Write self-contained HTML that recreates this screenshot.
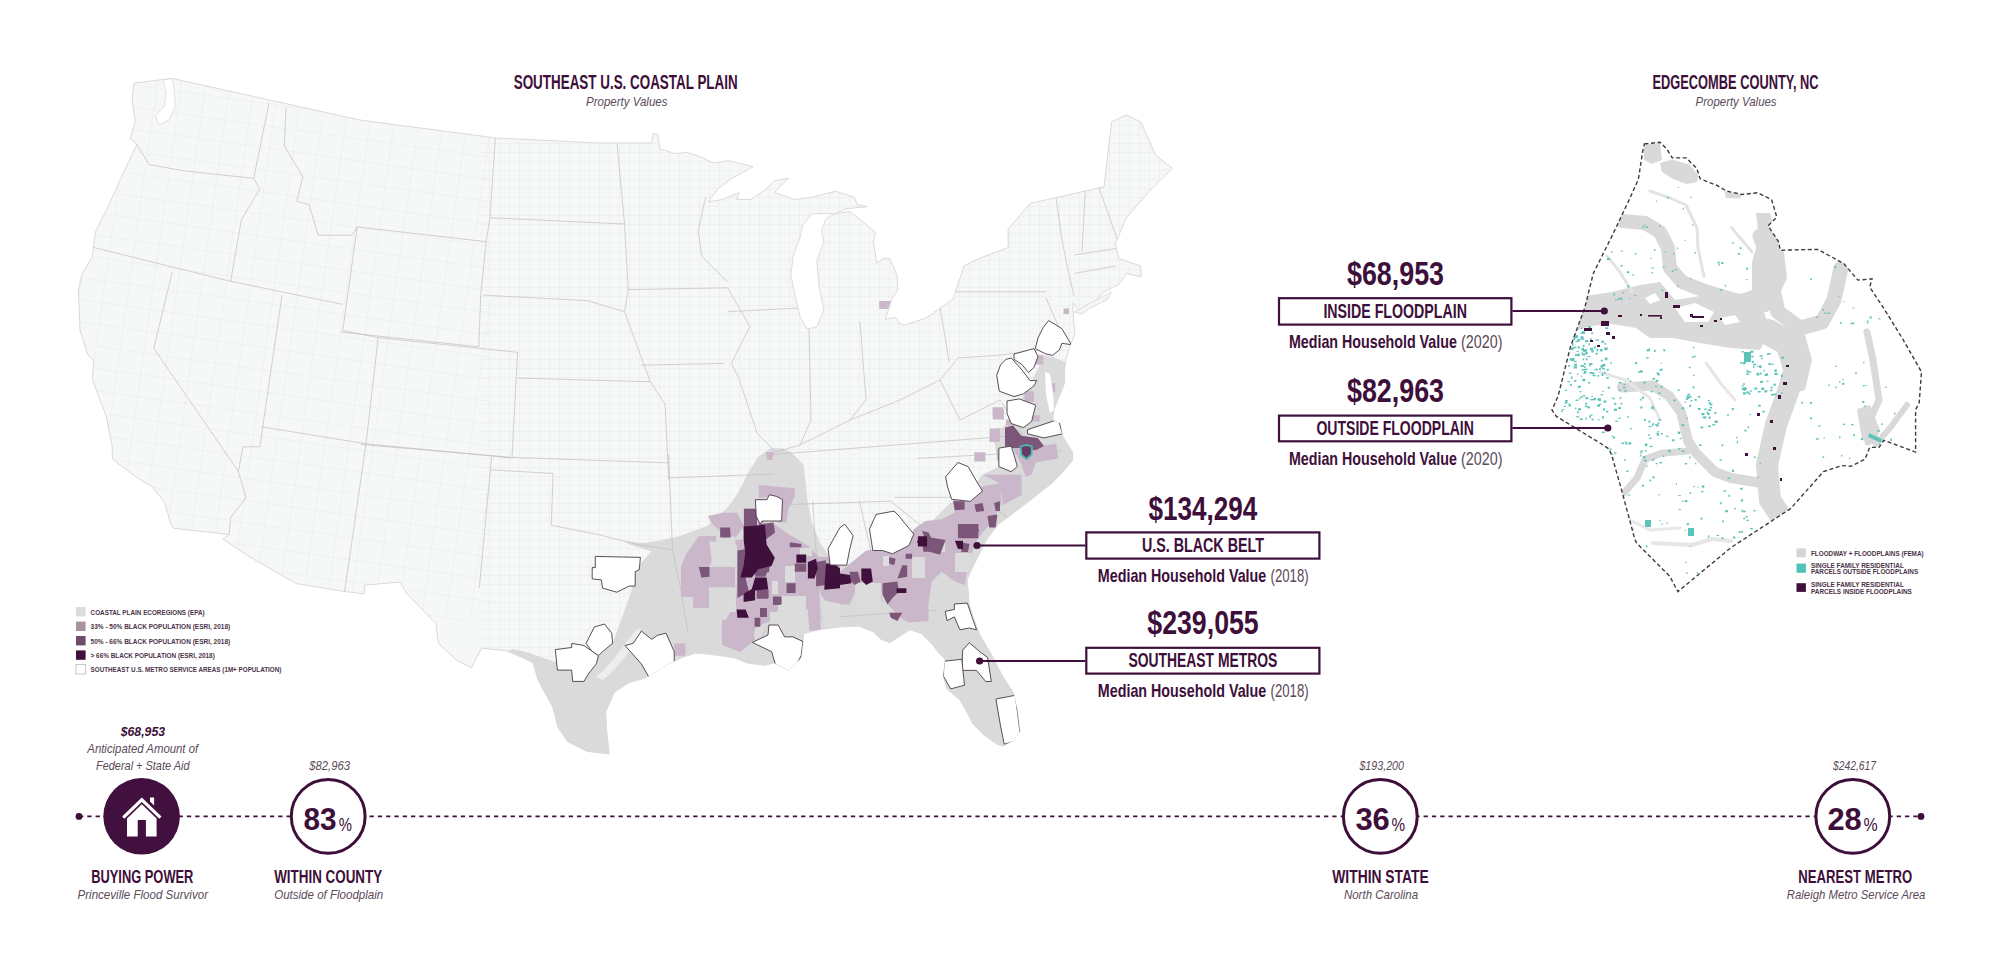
<!DOCTYPE html>
<html><head><meta charset="utf-8"><style>
html,body{margin:0;padding:0;background:#fff;}
svg{display:block;font-family:"Liberation Sans",sans-serif;}
</style></head><body>
<svg width="2000" height="976" viewBox="0 0 2000 976">
<defs><clipPath id="usclip"><polygon points="133.8,83.1 172.2,78.4 359.7,120.0 496.0,138.0 600.0,143.0 651.8,143.0 653.0,133.6 657.7,134.7 660.0,148.9 675.4,153.6 687.2,152.4 701.3,157.1 713.1,163.0 728.4,160.7 753.2,166.6 732.0,178.3 717.8,188.9 708.4,201.9 722.5,199.5 739.0,192.5 736.7,199.5 750.8,199.5 765.0,190.0 774.4,180.7 788.5,178.3 774.4,192.5 795.6,199.5 812.0,197.2 835.6,191.3 854.5,197.2 856.8,204.3 867.4,206.6 845.0,209.0 835.6,213.7 849.8,211.3 861.6,220.7 875.7,232.5 873.3,242.0 876.9,263.2 882.8,258.4 889.8,258.4 896.9,275.0 898.1,289.0 892.2,298.5 885.1,319.7 894.5,317.4 901.6,324.4 905.0,325.0 927.0,317.6 952.9,299.2 964.0,266.0 978.7,258.6 1008.2,247.5 1008.2,229.1 1030.3,203.3 1056.2,197.7 1104.1,186.7 1111.5,122.1 1126.3,114.8 1141.0,122.1 1155.7,155.3 1172.4,168.2 1148.4,192.2 1126.3,218.0 1115.2,243.9 1118.9,258.6 1141.0,266.0 1141.0,277.0 1126.3,273.4 1118.9,284.4 1104.1,291.8 1082.0,314.0 1072.6,303.3 1073.9,323.3 1075.2,334.0 1069.9,346.0 1065.9,359.3 1064.6,370.0 1064.6,383.2 1059.3,396.6 1053.9,409.9 1052.6,420.0 1060.3,423.5 1062.4,435.8 1072.6,452.2 1072.6,460.4 1060.3,474.8 1052.1,483.0 1029.1,501.2 1013.6,512.9 998.0,524.6 986.3,540.1 970.7,571.3 967.3,580.0 969.2,604.0 972.8,616.9 980.2,635.4 993.1,657.5 1002.4,675.9 1013.4,692.5 1017.1,709.2 1019.9,731.3 1013.4,740.5 1002.4,746.0 996.8,744.2 983.9,735.0 972.8,723.9 967.3,712.8 959.9,700.0 947.0,688.9 943.3,676.0 945.2,659.3 939.6,653.8 932.3,644.6 921.2,633.5 910.1,629.8 900.9,635.4 889.8,642.7 880.6,639.0 873.2,631.7 858.5,626.1 840.0,627.0 818.9,629.7 803.4,633.6 803.5,638.3 801.1,658.0 788.8,670.3 774.0,662.9 764.2,665.4 747.0,662.9 734.7,658.0 727.3,656.8 710.1,654.3 695.4,653.1 680.6,658.0 665.8,665.4 646.2,677.7 629.0,682.6 614.2,692.4 605.6,712.1 606.8,731.8 609.3,753.9 587.2,751.4 567.5,741.6 557.7,726.8 552.8,707.2 538.0,680.1 533.1,662.9 523.3,658.0 506.0,650.6 481.5,648.2 471.6,667.8 456.9,660.5 438.4,643.3 436.0,623.6 407.4,594.4 399.7,582.1 364.4,585.2 364.4,593.8 342.9,591.3 296.7,583.7 250.6,557.5 223.0,539.1 229.1,534.5 173.8,528.3 170.7,523.7 164.5,502.2 152.2,486.8 136.9,477.6 112.3,459.1 112.3,446.8 106.1,416.1 92.3,379.2 93.8,360.7 87.7,354.6 80.0,330.0 78.4,290.6 81.5,275.2 92.3,256.7 95.4,232.1 106.1,210.6 121.5,176.8 136.9,144.5 130.1,138.4 135.3,121.5 132.2,100.0"/></clipPath></defs>
<defs><pattern id="cg1" width="10" height="9" patternUnits="userSpaceOnUse"><path d="M10 0V9H0" stroke="#e2e3e3" stroke-width="0.7" fill="none"/></pattern><pattern id="cg2" width="24" height="22" patternUnits="userSpaceOnUse" patternTransform="rotate(8)"><path d="M24 0V22H0" stroke="#e4e5e5" stroke-width="0.7" fill="none"/></pattern></defs>
<polygon points="133.8,83.1 172.2,78.4 359.7,120.0 496.0,138.0 600.0,143.0 651.8,143.0 653.0,133.6 657.7,134.7 660.0,148.9 675.4,153.6 687.2,152.4 701.3,157.1 713.1,163.0 728.4,160.7 753.2,166.6 732.0,178.3 717.8,188.9 708.4,201.9 722.5,199.5 739.0,192.5 736.7,199.5 750.8,199.5 765.0,190.0 774.4,180.7 788.5,178.3 774.4,192.5 795.6,199.5 812.0,197.2 835.6,191.3 854.5,197.2 856.8,204.3 867.4,206.6 845.0,209.0 835.6,213.7 849.8,211.3 861.6,220.7 875.7,232.5 873.3,242.0 876.9,263.2 882.8,258.4 889.8,258.4 896.9,275.0 898.1,289.0 892.2,298.5 885.1,319.7 894.5,317.4 901.6,324.4 905.0,325.0 927.0,317.6 952.9,299.2 964.0,266.0 978.7,258.6 1008.2,247.5 1008.2,229.1 1030.3,203.3 1056.2,197.7 1104.1,186.7 1111.5,122.1 1126.3,114.8 1141.0,122.1 1155.7,155.3 1172.4,168.2 1148.4,192.2 1126.3,218.0 1115.2,243.9 1118.9,258.6 1141.0,266.0 1141.0,277.0 1126.3,273.4 1118.9,284.4 1104.1,291.8 1082.0,314.0 1072.6,303.3 1073.9,323.3 1075.2,334.0 1069.9,346.0 1065.9,359.3 1064.6,370.0 1064.6,383.2 1059.3,396.6 1053.9,409.9 1052.6,420.0 1060.3,423.5 1062.4,435.8 1072.6,452.2 1072.6,460.4 1060.3,474.8 1052.1,483.0 1029.1,501.2 1013.6,512.9 998.0,524.6 986.3,540.1 970.7,571.3 967.3,580.0 969.2,604.0 972.8,616.9 980.2,635.4 993.1,657.5 1002.4,675.9 1013.4,692.5 1017.1,709.2 1019.9,731.3 1013.4,740.5 1002.4,746.0 996.8,744.2 983.9,735.0 972.8,723.9 967.3,712.8 959.9,700.0 947.0,688.9 943.3,676.0 945.2,659.3 939.6,653.8 932.3,644.6 921.2,633.5 910.1,629.8 900.9,635.4 889.8,642.7 880.6,639.0 873.2,631.7 858.5,626.1 840.0,627.0 818.9,629.7 803.4,633.6 803.5,638.3 801.1,658.0 788.8,670.3 774.0,662.9 764.2,665.4 747.0,662.9 734.7,658.0 727.3,656.8 710.1,654.3 695.4,653.1 680.6,658.0 665.8,665.4 646.2,677.7 629.0,682.6 614.2,692.4 605.6,712.1 606.8,731.8 609.3,753.9 587.2,751.4 567.5,741.6 557.7,726.8 552.8,707.2 538.0,680.1 533.1,662.9 523.3,658.0 506.0,650.6 481.5,648.2 471.6,667.8 456.9,660.5 438.4,643.3 436.0,623.6 407.4,594.4 399.7,582.1 364.4,585.2 364.4,593.8 342.9,591.3 296.7,583.7 250.6,557.5 223.0,539.1 229.1,534.5 173.8,528.3 170.7,523.7 164.5,502.2 152.2,486.8 136.9,477.6 112.3,459.1 112.3,446.8 106.1,416.1 92.3,379.2 93.8,360.7 87.7,354.6 80.0,330.0 78.4,290.6 81.5,275.2 92.3,256.7 95.4,232.1 106.1,210.6 121.5,176.8 136.9,144.5 130.1,138.4 135.3,121.5 132.2,100.0" fill="#f6f7f7" stroke="#d0d0d0" stroke-width="0.8"/>
<g clip-path="url(#usclip)">
<rect x="60" y="60" width="430" height="560" fill="url(#cg2)"/>
<rect x="480" y="60" width="720" height="720" fill="url(#cg1)"/>
<polygon points="490.0,660.0 512.0,649.0 524.6,651.6 555.3,661.9 571.7,647.5 598.4,655.7 612.7,643.4 631.1,592.2 635.2,569.7 651.6,551.2 631.1,545.1 623.0,541.0 643.4,543.0 660.0,540.4 680.0,536.0 707.1,526.1 727.6,507.6 737.9,493.3 748.1,472.8 758.4,456.4 770.7,448.2 783.0,448.2 791.2,452.3 803.5,464.6 805.5,481.0 807.6,501.5 811.7,522.0 819.9,542.5 828.1,554.8 840.4,563.0 856.8,565.0 865.0,558.9 885.5,554.8 900.0,550.7 910.7,534.2 931.2,521.9 949.7,503.4 968.1,493.2 982.5,474.8 998.9,466.6 995.0,445.0 990.7,429.7 1003.0,427.6 1027.5,388.7 1039.0,367.0 1040.6,355.3 1051.3,356.6 1066.0,362.0 1100.0,360.0 1200.0,400.0 1200.0,800.0 500.0,800.0" fill="#dadada"/>
<polyline points="136.9,144.5 149.0,164.5 183.0,170.7 253.7,178.4" fill="none" stroke="#bfbfbf" stroke-width="0.7"/>
<polyline points="269.0,103.0 253.7,178.4" fill="none" stroke="#bfbfbf" stroke-width="0.7"/>
<polyline points="253.7,178.4 259.8,189.0 241.4,219.9 230.6,281.3" fill="none" stroke="#bfbfbf" stroke-width="0.7"/>
<polyline points="93.8,247.5 230.6,281.3 342.8,304.4" fill="none" stroke="#bfbfbf" stroke-width="0.7"/>
<polyline points="286.0,107.6 284.4,146.0 302.9,176.8 296.7,201.4 309.0,204.5 318.2,235.2 352.0,235.2 357.2,226.9" fill="none" stroke="#bfbfbf" stroke-width="0.7"/>
<polyline points="172.2,272.1 153.8,348.4 238.3,471.4 246.0,497.6 230.6,517.5 229.1,534.5" fill="none" stroke="#bfbfbf" stroke-width="0.7"/>
<polyline points="282.0,295.0 259.8,446.8 243.0,446.8 238.3,471.4" fill="none" stroke="#bfbfbf" stroke-width="0.7"/>
<polyline points="261.4,426.8 366.0,443.8 510.7,457.8" fill="none" stroke="#bfbfbf" stroke-width="0.7"/>
<polyline points="366.0,443.8 344.4,592.9" fill="none" stroke="#bfbfbf" stroke-width="0.7"/>
<polyline points="378.2,337.7 366.0,443.8" fill="none" stroke="#bfbfbf" stroke-width="0.7"/>
<polyline points="342.8,330.5 378.2,337.7" fill="none" stroke="#bfbfbf" stroke-width="0.7"/>
<polyline points="491.6,457.0 479.3,587.9" fill="none" stroke="#bfbfbf" stroke-width="0.7"/>
<polyline points="490.4,469.8 553.1,473.5 551.3,525.2" fill="none" stroke="#bfbfbf" stroke-width="0.7"/>
<polyline points="357.2,226.9 486.2,241.7" fill="none" stroke="#bfbfbf" stroke-width="0.7"/>
<polyline points="342.8,330.5 357.2,226.9" fill="none" stroke="#bfbfbf" stroke-width="0.7"/>
<polyline points="340.6,332.0 478.8,346.8" fill="none" stroke="#bfbfbf" stroke-width="0.7"/>
<polyline points="495.4,138.4 489.9,217.7 486.2,241.7 480.7,295.1 478.8,346.8" fill="none" stroke="#bfbfbf" stroke-width="0.7"/>
<polyline points="489.9,217.7 624.5,224.0" fill="none" stroke="#bfbfbf" stroke-width="0.7"/>
<polyline points="617.1,144.0 624.5,224.0 628.2,289.6 624.5,311.7" fill="none" stroke="#bfbfbf" stroke-width="0.7"/>
<polyline points="482.5,295.1 587.6,300.7 624.5,311.7 650.3,381.8" fill="none" stroke="#bfbfbf" stroke-width="0.7"/>
<polyline points="377.4,337.6 517.6,352.3 512.0,457.4 360.8,444.5" fill="none" stroke="#bfbfbf" stroke-width="0.7"/>
<polyline points="517.6,378.1 650.3,381.8" fill="none" stroke="#bfbfbf" stroke-width="0.7"/>
<polyline points="512.0,457.4 668.7,462.9" fill="none" stroke="#bfbfbf" stroke-width="0.7"/>
<polyline points="650.3,381.8 665.0,404.0 668.7,479.5" fill="none" stroke="#bfbfbf" stroke-width="0.7"/>
<polyline points="628.2,289.6 727.7,287.8 749.9,326.5 731.4,363.4 738.8,378.1 757.2,433.4 775.7,451.9" fill="none" stroke="#bfbfbf" stroke-width="0.7"/>
<polyline points="641.1,365.2 724.0,363.4" fill="none" stroke="#bfbfbf" stroke-width="0.7"/>
<polyline points="705.6,197.4 698.2,230.6 701.9,256.4 727.7,282.2" fill="none" stroke="#bfbfbf" stroke-width="0.7"/>
<polyline points="727.7,311.7 800.0,308.0" fill="none" stroke="#bfbfbf" stroke-width="0.7"/>
<polyline points="809.0,328.7 811.0,420.0 800.0,445.0" fill="none" stroke="#bfbfbf" stroke-width="0.7"/>
<polyline points="860.0,322.0 866.0,400.0 850.0,420.0" fill="none" stroke="#bfbfbf" stroke-width="0.7"/>
<polyline points="551.3,525.2 600.0,535.0 640.0,545.0 672.5,549.9" fill="none" stroke="#bfbfbf" stroke-width="0.7"/>
<polyline points="668.6,454.5 672.5,549.9 680.3,586.9 766.0,586.9" fill="none" stroke="#bfbfbf" stroke-width="0.7"/>
<polyline points="680.3,586.9 688.0,633.6" fill="none" stroke="#bfbfbf" stroke-width="0.7"/>
<polyline points="668.6,477.9 773.7,474.0" fill="none" stroke="#bfbfbf" stroke-width="0.7"/>
<polyline points="773.7,454.5 1023.0,435.0" fill="none" stroke="#bfbfbf" stroke-width="0.7"/>
<polyline points="773.7,505.0 890.5,501.2" fill="none" stroke="#bfbfbf" stroke-width="0.7"/>
<polyline points="812.7,501.2 820.5,618.0" fill="none" stroke="#bfbfbf" stroke-width="0.7"/>
<polyline points="859.4,501.2 882.7,602.4" fill="none" stroke="#bfbfbf" stroke-width="0.7"/>
<polyline points="820.5,618.0 937.3,610.2" fill="none" stroke="#bfbfbf" stroke-width="0.7"/>
<polyline points="890.5,501.2 968.4,563.5" fill="none" stroke="#bfbfbf" stroke-width="0.7"/>
<polyline points="894.4,497.3 976.2,497.3 1007.3,516.8" fill="none" stroke="#bfbfbf" stroke-width="0.7"/>
<polyline points="917.8,458.4 1061.8,450.6" fill="none" stroke="#bfbfbf" stroke-width="0.7"/>
<polyline points="766.0,586.9 772.0,620.0 760.0,640.0" fill="none" stroke="#bfbfbf" stroke-width="0.7"/>
<polyline points="775.7,451.9 800.0,445.0 850.0,420.0 900.0,400.0 940.0,380.0 958.0,358.0" fill="none" stroke="#bfbfbf" stroke-width="0.7"/>
<polyline points="940.0,380.0 960.0,420.0 1000.0,400.0 1023.0,435.0" fill="none" stroke="#bfbfbf" stroke-width="0.7"/>
<polyline points="958.0,358.0 1000.0,355.0 1040.0,350.0" fill="none" stroke="#bfbfbf" stroke-width="0.7"/>
<polyline points="1046.0,298.0 1060.0,330.0" fill="none" stroke="#bfbfbf" stroke-width="0.7"/>
<polyline points="1056.0,197.7 1062.0,240.0 1068.0,270.0 1074.0,296.0" fill="none" stroke="#bfbfbf" stroke-width="0.7"/>
<polyline points="1085.7,184.8 1082.0,251.2" fill="none" stroke="#bfbfbf" stroke-width="0.7"/>
<polyline points="1096.7,181.2 1118.9,243.9" fill="none" stroke="#bfbfbf" stroke-width="0.7"/>
<polyline points="1074.6,255.0 1122.6,247.5" fill="none" stroke="#bfbfbf" stroke-width="0.7"/>
<polyline points="1074.6,273.4 1115.2,266.0" fill="none" stroke="#bfbfbf" stroke-width="0.7"/>
<polyline points="940.0,306.6 949.2,362.0" fill="none" stroke="#bfbfbf" stroke-width="0.7"/>
<polyline points="949.2,291.8 1046.0,291.8" fill="none" stroke="#bfbfbf" stroke-width="0.7"/>
<polygon points="596,677 604,670 616,656 628,640 636,630 641,628 638,638 626,656 612,672 603,680" fill="#ededed"/>
<polygon points="686.0,554.0 699.0,536.0 716.0,536.0 716.0,554.0 709.0,567.0 714.0,567.0 735.0,567.0 735.0,587.0 709.0,587.0 709.0,608.0 693.0,608.0 693.0,597.0 681.0,597.0 681.0,567.0" fill="#cab8ca"/>
<polygon points="735.4,539.7 743.6,539.7 743.6,551.1 735.4,551.1" fill="#cab8ca"/>
<polygon points="707.9,516.1 722.6,512.8 737.4,512.8 743.9,525.9 735.7,537.4 721.0,532.5 711.1,522.6" fill="#cab8ca"/>
<polygon points="758.7,484.9 794.8,488.2 794.8,496.4 788.2,509.5 786.6,522.6 778.4,522.6 771.8,496.4 758.7,498.0" fill="#cab8ca"/>
<polygon points="771.8,522.6 788.2,534.1 807.9,545.6 819.3,557.0 821.0,578.4 819.3,594.8 821.0,630.8 809.5,630.8 807.9,609.5 778.4,609.5 770.2,621.0 755.4,627.5 752.1,640.0 722.6,640.0 724.3,622.6 735.7,603.0 737.4,578.4 748.9,568.5 762.0,571.8 771.8,555.4 768.5,542.3" fill="#cab8ca"/>
<polygon points="743.9,508.7 757.0,508.7 765.2,524.3 773.4,557.0 770.2,565.2 766.9,591.7 756.3,599.9 749.2,618.3 737.9,618.3 736.9,579.4 737.4,550.5 745.6,537.4" fill="#cab8ca"/>
<polygon points="816.1,557.0 840.0,557.0 840.0,603.0 827.5,604.6 821.0,594.8" fill="#cab8ca"/>
<polygon points="840.0,571.8 866.2,550.5 882.6,548.9 892.5,553.8 905.6,545.6 913.8,529.2 925.2,521.0 941.6,519.3 954.8,512.8 953.1,499.7 967.9,496.4 982.6,486.6 1000.0,483.3 1001.6,503.0 993.4,519.3 977.0,539.8 968.9,560.3 964.8,585.0 954.8,581.6 941.6,571.8 931.8,581.6 928.5,604.6 928.5,621.0 908.9,622.6 902.3,619.3 887.5,604.6 881.0,591.5 872.8,586.6 854.8,593.1 849.8,604.6 840.0,604.6" fill="#cab8ca"/>
<polygon points="982.5,474.8 998.9,474.8 1021.4,476.0 1021.4,495.2 1003.0,505.0 1000.0,483.3" fill="#cab8ca"/>
<polygon points="1013.2,448.1 1056.2,444.0 1058.3,458.4 1035.7,462.5 1031.6,474.8 1025.5,476.8 1021.4,464.5" fill="#cab8ca"/>
<polygon points="992.7,409.0 1004.0,409.0 1004.0,419.4 992.7,419.4" fill="#cab8ca"/>
<polygon points="974.3,452.2 985.5,452.2 985.5,461.4 974.3,461.4" fill="#cab8ca"/>
<polygon points="989.6,428.6 999.9,428.6 999.9,442.0 989.6,442.0" fill="#cab8ca"/>
<polygon points="996.8,449.0 1003.0,449.0 1003.0,460.4 996.8,460.4" fill="#cab8ca"/>
<polygon points="1006.0,419.4 1015.0,419.4 1015.0,425.6 1006.0,425.6" fill="#cab8ca"/>
<polygon points="1029.6,415.3 1039.8,415.3 1039.8,421.5 1029.6,421.5" fill="#cab8ca"/>
<polygon points="998.9,474.8 1021.4,474.8 1021.4,495.2 998.9,490.0" fill="#cab8ca"/>
<polygon points="674.2,643.4 685.5,643.4 685.5,655.7 674.2,655.7" fill="#cab8ca"/>
<polygon points="879.2,300.9 891.0,300.9 888.0,309.1 879.2,309.1" fill="#cab8ca"/>
<polygon points="1063.5,308.4 1069.0,308.4 1069.0,314.0 1063.5,314.0" fill="#cab8ca"/>
<polygon points="1050.0,383.2 1055.3,383.2 1055.3,392.6 1050.0,392.6" fill="#cab8ca"/>
<polygon points="1034.0,355.3 1043.3,355.3 1043.3,364.6 1034.0,364.6" fill="#cab8ca"/>
<polygon points="1024.6,391.2 1034.0,391.2 1034.0,401.9 1024.6,401.9" fill="#cab8ca"/>
<polygon points="992.7,407.2 1003.3,407.2 1003.3,416.5 992.7,416.5" fill="#cab8ca"/>
<polygon points="722.0,620.0 752.0,620.0 755.0,640.0 740.0,652.0 722.0,645.0" fill="#cab8ca"/>
<polygon points="766.0,452.0 774.0,452.0 772.0,460.0 767.0,460.0" fill="#cab8ca"/>
<polygon points="709.5,541.0 737.0,545.0 737.0,565.0 712.0,565.0" fill="#dcdcdc"/>
<polygon points="785.0,566.0 795.0,566.0 795.0,582.0 785.0,582.0" fill="#dcdcdc"/>
<polygon points="778.0,596.0 806.0,596.0 806.0,610.0 778.0,610.0" fill="#dcdcdc"/>
<polygon points="770.0,612.0 806.0,612.0 808.0,640.0 770.0,640.0" fill="#dcdcdc"/>
<polygon points="823.0,600.0 840.0,604.0 840.0,640.0 823.0,640.0" fill="#dcdcdc"/>
<polygon points="912.0,557.0 925.0,557.0 925.0,578.0 912.0,578.0" fill="#dcdcdc"/>
<polygon points="955.0,553.0 971.0,553.0 971.0,572.0 955.0,572.0" fill="#dcdcdc"/>
<polygon points="883.0,556.0 889.0,556.0 889.0,566.0 883.0,566.0" fill="#dcdcdc"/>
<polygon points="772.0,581.0 778.0,581.0 778.0,594.0 772.0,594.0" fill="#dcdcdc"/>
<polygon points="800.0,548.0 812.0,548.0 812.0,556.0 800.0,556.0" fill="#dcdcdc"/>
<polygon points="726.0,600.0 736.0,600.0 736.0,612.0 726.0,612.0" fill="#dcdcdc"/>
<polygon points="855.0,583.0 881.0,583.0 881.0,606.0 855.0,606.0" fill="#dcdcdc"/>
<polygon points="935.0,540.0 945.0,540.0 945.0,552.0 935.0,552.0" fill="#dcdcdc"/>
<polygon points="756.7,588.9 768.2,588.9 768.2,598.7 756.7,598.7" fill="#7b5678"/>
<polygon points="760.0,608.5 766.6,608.5 766.6,616.7 760.0,616.7" fill="#7b5678"/>
<polygon points="773.0,597.0 780.0,597.0 780.0,605.0 773.0,605.0" fill="#7b5678"/>
<polygon points="755.0,564.0 770.0,562.0 769.0,572.0 756.0,574.0" fill="#7b5678"/>
<polygon points="743.9,508.7 757.0,508.7 757.0,525.9 750.5,534.1 743.9,529.2" fill="#7b5678"/>
<polygon points="720.2,527.5 730.0,527.5 730.8,537.4 720.2,537.4" fill="#7b5678"/>
<polygon points="698.9,566.9 709.5,566.9 709.5,576.7 701.3,577.5" fill="#7b5678"/>
<polygon points="737.4,550.5 747.2,548.9 748.9,565.2 745.6,578.4 748.9,591.5 737.4,598.0 737.4,581.6" fill="#7b5678"/>
<polygon points="758.7,524.3 773.4,522.6 775.1,532.5 768.5,537.4 758.7,543.9" fill="#7b5678"/>
<polygon points="753.8,566.9 770.2,565.2 765.2,576.7 755.4,576.7" fill="#7b5678"/>
<polygon points="757.0,589.8 768.5,589.8 768.5,598.0 757.0,598.0" fill="#7b5678"/>
<polygon points="794.8,563.6 806.2,563.6 806.2,571.8 794.8,571.8" fill="#7b5678"/>
<polygon points="786.6,583.3 795.6,583.3 795.6,593.1 786.6,593.1" fill="#7b5678"/>
<polygon points="816.1,562.0 825.9,560.3 825.9,585.0 816.1,586.6" fill="#7b5678"/>
<polygon points="789.8,542.3 801.3,543.9 801.3,547.2 789.8,547.2" fill="#7b5678"/>
<polygon points="760.3,607.9 766.9,607.9 766.9,616.9 760.3,616.9" fill="#7b5678"/>
<polygon points="754.6,617.7 760.3,617.7 760.3,626.7 754.6,626.7" fill="#7b5678"/>
<polygon points="773.4,596.4 781.6,596.4 781.6,604.6 773.4,604.6" fill="#7b5678"/>
<polygon points="849.8,571.8 858.0,571.8 860.5,581.6 854.8,584.9 849.8,580.0" fill="#7b5678"/>
<polygon points="882.6,583.3 897.4,581.6 899.0,591.5 892.5,598.0 887.5,604.6 882.6,594.8" fill="#7b5678"/>
<polygon points="889.2,612.8 902.3,612.8 897.4,621.0 890.8,617.7" fill="#7b5678"/>
<polygon points="922.0,542.3 938.4,539.0 938.4,550.5 923.6,552.1" fill="#7b5678"/>
<polygon points="959.7,524.3 976.1,525.9 979.3,530.8 969.5,537.4 961.3,537.4" fill="#7b5678"/>
<polygon points="953.1,501.3 964.6,501.3 964.6,509.5 954.8,510.3" fill="#7b5678"/>
<polygon points="987.5,516.1 997.4,514.4 995.7,527.5 989.2,527.5" fill="#7b5678"/>
<polygon points="974.4,504.6 982.6,503.0 984.3,511.1 976.1,512.0" fill="#7b5678"/>
<polygon points="994.1,503.0 1000.0,501.3 1000.0,511.1 995.7,511.1" fill="#7b5678"/>
<polygon points="902.3,565.2 907.2,565.2 907.2,576.7 897.4,578.4" fill="#7b5678"/>
<polygon points="905.6,553.8 912.1,553.8 912.1,558.7 905.6,558.7" fill="#7b5678"/>
<polygon points="889.2,557.0 895.7,558.7 894.1,565.2 889.2,563.6" fill="#7b5678"/>
<polygon points="922.0,530.8 928.5,532.5 931.8,539.0 925.2,539.0" fill="#7b5678"/>
<polygon points="961.3,542.3 969.5,543.9 967.9,552.1 961.3,552.1" fill="#7b5678"/>
<polygon points="1005.0,427.6 1013.2,425.6 1021.4,435.8 1037.8,437.9 1043.9,446.1 1035.7,450.2 1023.4,448.1 1005.0,448.1" fill="#7b5678"/>
<polygon points="957.9,524.0 978.4,524.0 978.4,538.3 957.9,538.3" fill="#7b5678"/>
<polygon points="923.0,536.2 945.6,540.0 940.0,554.7 923.0,550.0" fill="#7b5678"/>
<polygon points="743.6,526.6 765.0,525.0 766.6,544.6 774.8,557.7 771.5,565.9 758.4,569.2 751.8,577.4 740.3,577.4 743.6,565.9 745.2,552.8 743.6,539.7" fill="#40103c"/>
<polygon points="755.1,577.4 766.6,577.4 768.2,588.9 755.1,590.5 755.1,600.3 743.6,602.0 743.6,593.8 751.8,588.9" fill="#40103c"/>
<polygon points="736.6,609.5 745.6,609.5 748.9,617.7 737.4,617.7" fill="#40103c"/>
<polygon points="796.4,554.6 806.2,554.6 806.2,562.8 796.4,562.8" fill="#40103c"/>
<polygon points="807.9,562.0 816.1,558.7 817.7,568.5 814.4,578.4 807.9,578.4" fill="#40103c"/>
<polygon points="825.9,563.6 834.1,563.6 840.0,568.5 840.0,588.2 824.3,589.8" fill="#40103c"/>
<polygon points="840.0,573.4 849.8,575.1 851.5,583.3 840.0,584.9" fill="#40103c"/>
<polygon points="861.3,568.5 871.1,568.5 872.8,581.6 866.2,584.9 861.3,580.0" fill="#40103c"/>
<polygon points="896.6,588.2 906.4,588.2 906.4,593.1 896.6,593.1" fill="#40103c"/>
<polygon points="918.7,537.4 925.2,537.4 926.9,543.9 920.3,545.6 917.0,542.3" fill="#40103c"/>
<polygon points="954.8,540.7 963.0,540.7 963.0,548.9 958.0,548.9" fill="#40103c"/>
<polygon points="917.9,536.2 927.1,536.2 927.1,546.5 917.9,546.5" fill="#40103c"/>
<polygon points="1020.5,446.5 1026,445 1032,446.5 1031.5,454.5 1026.5,459 1021.5,455" fill="#6a3a66" stroke="#46bdb3" stroke-width="1.8"/>
<polygon points="595.3,556.4 640.4,557.4 639.3,569.7 635.2,571.7 635.2,586.1 629.1,586.1 616.8,592.2 602.5,588.1 601.4,579.9 592.2,578.9 592.2,567.6 595.3,567.6" fill="#fff" stroke="#4a3a48" stroke-width="0.9"/>
<polygon points="586.1,643.4 594.3,627.0 604.5,624.0 611.7,633.2 612.7,643.4 602.5,651.6 598.4,655.7 592.2,651.6" fill="#fff" stroke="#4a3a48" stroke-width="0.9"/>
<polygon points="555.3,649.6 571.7,647.5 571.7,643.4 584.0,645.5 598.4,655.7 596.3,663.9 588.1,674.2 584.0,681.4 572.7,681.4 571.7,670.1 557.4,670.1" fill="#fff" stroke="#4a3a48" stroke-width="0.9"/>
<polygon points="625.0,645.5 633.2,643.4 641.4,631.1 651.6,639.3 657.8,635.2 666.0,633.2 674.2,651.6 674.2,661.9 661.9,672.1 649.6,678.3 641.4,663.9" fill="#fff" stroke="#4a3a48" stroke-width="0.9"/>
<polygon points="752.3,642.4 768.0,635.0 768.9,625.0 778.1,625.0 784.6,636.9 792.9,636.9 803.0,641.5 801.2,655.4 797.5,662.7 801.2,664.6 790.1,672.0 775.4,664.6 771.7,651.7" fill="#fff" stroke="#4a3a48" stroke-width="0.9"/>
<polygon points="755.4,499.7 766.9,499.7 769.3,494.8 776.7,496.4 782.5,499.7 781.6,521.0 762.0,521.0 760.3,524.3 756.2,516.1" fill="#fff" stroke="#4a3a48" stroke-width="0.9"/>
<polygon points="828.1,548.6 840.0,527.5 844.9,524.3 853.1,535.7 849.8,548.9 846.6,565.2 830.1,565.0" fill="#fff" stroke="#4a3a48" stroke-width="0.9"/>
<polygon points="869.5,529.2 876.1,514.4 894.1,511.1 899.0,516.1 905.6,524.3 913.8,534.1 908.9,545.6 892.5,553.8 882.6,550.5 872.8,550.5" fill="#fff" stroke="#4a3a48" stroke-width="0.9"/>
<polygon points="945.6,476.8 957.9,462.5 968.1,466.6 976.3,480.9 982.5,491.1 970.2,501.4 951.7,499.3 947.6,487.0" fill="#fff" stroke="#4a3a48" stroke-width="0.9"/>
<polygon points="998.9,448.1 1011.2,446.1 1013.2,452.2 1017.3,466.6 1011.2,471.7 998.9,466.6" fill="#fff" stroke="#4a3a48" stroke-width="0.9"/>
<polygon points="1007.0,401.0 1019.3,398.9 1035.7,405.1 1031.6,421.5 1023.4,427.6 1011.2,423.5 1007.0,413.3" fill="#fff" stroke="#4a3a48" stroke-width="0.9"/>
<polygon points="1027.5,429.7 1058.3,419.4 1062.4,433.8 1044.0,437.9 1027.5,433.8" fill="#fff" stroke="#4a3a48" stroke-width="0.9"/>
<polygon points="996.7,375.2 1000.7,364.6 1006.0,359.3 1011.3,358.0 1022.0,370.0 1030.0,380.6 1036.6,380.6 1034.0,385.9 1023.3,393.9 1014.0,396.6 999.3,391.2" fill="#fff" stroke="#4a3a48" stroke-width="0.9"/>
<polygon points="1014.0,354.0 1034.0,348.6 1038.0,356.6 1034.0,367.2 1028.6,372.6 1022.0,364.6 1014.0,359.3" fill="#fff" stroke="#4a3a48" stroke-width="0.9"/>
<polygon points="1048.6,320.6 1061.9,328.6 1071.2,344.6 1061.9,343.3 1059.3,350.0 1052.6,355.3 1045.9,354.0 1035.3,348.6 1038.0,338.0 1043.3,327.3" fill="#fff" stroke="#4a3a48" stroke-width="0.9"/>
<polygon points="945.2,611.4 954.4,609.5 954.4,604.0 967.3,603.1 976.5,629.8 969.2,628.0 959.9,629.8 954.4,616.9 947.0,620.6" fill="#fff" stroke="#4a3a48" stroke-width="0.9"/>
<polygon points="962.7,650.1 969.2,642.7 980.2,652.0 987.6,657.5 991.3,681.5 985.8,681.5 976.5,670.4 961.8,670.4" fill="#fff" stroke="#4a3a48" stroke-width="0.9"/>
<polygon points="944.2,661.2 961.8,659.3 964.5,685.2 950.7,688.9 943.3,676.0" fill="#fff" stroke="#4a3a48" stroke-width="0.9"/>
<polygon points="995.9,699.0 1015.3,695.3 1019.9,731.3 1017.1,740.5 1004.2,744.2 1000.5,725.8" fill="#fff" stroke="#4a3a48" stroke-width="0.9"/>
</g>
<polygon points="1074.6,312 1092,302 1111.5,291.8 1107.8,299.2 1090,308 1082,314" fill="#f4f5f5" stroke="#d4d4d4" stroke-width="0.8"/>
<polygon points="1045,372 1050,374 1053,392 1054,410 1050,413 1046,395" fill="#fff"/>
<polygon points="163,80 172.2,78.4 174,88 175.3,106 169,120 159,125 155.3,116 164.5,106 166,92" fill="#fff" stroke="#d0d0d0" stroke-width="0.6"/>
<polygon points="835.6,213.7 812.0,213.7 802.6,225.5 800.3,237.2 795.6,249.0 793.2,256.0 790.9,275.0 795.6,298.5 800.3,317.4 807.4,329.1 816.8,326.8 823.8,310.3 819.1,286.7 816.8,260.8 823.8,242.0 821.5,230.2 826.2,218.4" fill="#fff" stroke="#d4d4d4" stroke-width="0.8"/>
<defs><clipPath id="edclip"><polygon points="1644.4,143.9 1660.0,142.2 1667.0,149.2 1672.3,157.9 1686.2,157.9 1696.7,168.3 1700.1,178.8 1717.6,185.7 1726.3,191.0 1742.0,194.5 1757.6,192.7 1771.6,199.7 1776.8,217.1 1768.1,225.8 1778.5,241.5 1780.3,250.2 1817.8,249.4 1843.8,263.6 1857.9,280.1 1872.0,278.9 1869.7,287.1 1883.8,308.3 1902.7,339.0 1921.5,372.0 1919.2,402.6 1915.6,409.7 1915.6,452.1 1883.8,440.3 1879.1,447.4 1869.7,447.4 1865.0,459.2 1850.8,466.3 1841.8,465.6 1823.4,471.7 1790.6,508.6 1731.1,547.5 1677.9,591.6 1669.7,576.2 1636.9,543.4 1634.8,539.3 1620.5,486.1 1612.3,457.4 1609.2,449.2 1600.0,443.0 1593.0,438.8 1556.1,416.2 1552.0,410.0 1558.2,395.7 1570.5,346.6 1584.8,307.6 1593.3,273.4 1611.7,236.6 1630.2,197.6 1638.4,179.2 1642.5,152.5"/></clipPath></defs>
<g clip-path="url(#edclip)">
<polygon points="1660.0,163.1 1672.3,159.6 1689.7,164.8 1698.4,175.3 1696.7,182.3 1686.2,184.0 1672.3,178.8 1661.8,171.8" fill="#d9d9d9"/>
<polygon points="1644.0,144.0 1660.0,143.0 1662.0,160.0 1652.0,164.0 1644.0,160.0" fill="#d9d9d9"/>
<polygon points="1724.5,191.0 1742.0,194.0 1740.0,198.5 1726.0,198.0" fill="#d9d9d9"/>
<polygon points="1756.0,213.0 1770.0,213.0 1774.0,228.0 1784.0,252.0 1787.0,278.0 1777.0,300.0 1752.0,300.0 1752.0,262.0 1759.0,238.0" fill="#d9d9d9"/>
<polygon points="1585.0,296.0 1612.0,292.0 1640.0,285.0 1660.0,282.0 1675.0,300.0 1700.0,296.0 1730.0,298.0 1752.0,290.0 1760.0,300.0 1770.0,330.0 1760.0,350.0 1730.0,348.0 1700.0,343.0 1673.0,338.0 1650.0,338.0 1636.0,328.0 1612.0,324.0 1590.0,326.0 1578.0,330.0" fill="#d9d9d9"/>
<polygon points="1770.0,330.0 1805.0,335.0 1812.0,360.0 1805.0,390.0 1790.0,395.0 1780.0,360.0" fill="#d9d9d9"/>
<polygon points="1857.0,409.0 1870.0,405.0 1880.0,430.0 1875.0,445.0 1862.0,440.0" fill="#d9d9d9"/>
<polyline points="1622.0,221.0 1645.0,223.0 1660.0,232.0 1668.0,248.0 1670.0,268.0 1682.0,282.0 1705.0,291.0 1735.0,300.0 1765.0,305.0" fill="none" stroke="#d9d9d9" stroke-width="14" stroke-linejoin="round" stroke-linecap="round"/>
<polyline points="1572.0,318.0 1590.0,312.0 1610.0,308.0 1630.0,304.0 1648.0,304.0 1665.0,314.0 1685.0,322.0 1712.0,326.0 1740.0,328.0 1768.0,332.0 1792.0,345.0" fill="none" stroke="#d9d9d9" stroke-width="26" stroke-linejoin="round" stroke-linecap="round"/>
<polyline points="1760.0,236.0 1768.0,258.0 1772.0,285.0 1778.0,312.0 1800.0,328.0 1822.0,322.0 1834.0,300.0 1841.0,268.0" fill="none" stroke="#d9d9d9" stroke-width="15" stroke-linejoin="round" stroke-linecap="round"/>
<polyline points="1790.0,340.0 1797.0,362.0 1788.0,392.0 1776.0,425.0 1767.0,465.0 1770.0,500.0 1778.0,512.0" fill="none" stroke="#d9d9d9" stroke-width="22" stroke-linejoin="round" stroke-linecap="round"/>
<polyline points="1621.7,387.5 1652.5,385.5 1668.9,395.7 1681.1,412.1 1688.0,441.0 1696.0,453.0 1715.0,472.0 1731.0,478.0 1756.0,482.0 1772.0,485.0" fill="none" stroke="#d9d9d9" stroke-width="10" stroke-linejoin="round" stroke-linecap="round"/>
<polyline points="1688.0,451.0 1661.5,453.3 1645.0,459.4 1637.0,478.0 1624.6,492.2 1612.0,500.0" fill="none" stroke="#d9d9d9" stroke-width="7" stroke-linejoin="round" stroke-linecap="round"/>
<polyline points="1867.0,332.0 1873.0,360.0 1879.0,400.0 1870.0,420.0 1868.0,442.0" fill="none" stroke="#d9d9d9" stroke-width="7" stroke-linejoin="round" stroke-linecap="round"/>
<polyline points="1907.0,405.0 1890.0,428.0 1876.0,444.0" fill="none" stroke="#d9d9d9" stroke-width="6" stroke-linejoin="round" stroke-linecap="round"/>
<polyline points="1607.0,256.0 1620.0,272.0 1632.0,292.0" fill="none" stroke="#e3e3e3" stroke-width="3" stroke-linejoin="round" stroke-linecap="round"/>
<polyline points="1650.0,191.0 1670.0,198.0 1686.0,205.0 1697.0,228.0 1698.0,248.0 1704.0,276.0" fill="none" stroke="#e3e3e3" stroke-width="3" stroke-linejoin="round" stroke-linecap="round"/>
<polyline points="1731.5,227.6 1742.0,240.0 1752.0,252.0" fill="none" stroke="#e3e3e3" stroke-width="3" stroke-linejoin="round" stroke-linecap="round"/>
<polyline points="1600.0,372.0 1625.0,380.0 1650.0,398.0 1660.0,420.0" fill="none" stroke="#e6e6e6" stroke-width="3" stroke-linejoin="round" stroke-linecap="round"/>
<polyline points="1653.0,543.0 1692.0,545.0 1712.0,539.0 1731.0,541.0" fill="none" stroke="#e6e6e6" stroke-width="4" stroke-linejoin="round" stroke-linecap="round"/>
<polyline points="1706.0,363.0 1722.0,385.0 1735.0,400.0" fill="none" stroke="#e6e6e6" stroke-width="3" stroke-linejoin="round" stroke-linecap="round"/>
<polyline points="1612.0,500.0 1630.0,520.0 1650.0,530.0 1680.0,528.0" fill="none" stroke="#e8e8e8" stroke-width="3" stroke-linejoin="round" stroke-linecap="round"/>
<polygon points="1675.0,308.0 1695.0,303.0 1714.0,312.0 1708.0,322.0 1685.0,322.0" fill="#fff"/>
<polygon points="1645.0,298.0 1655.0,293.0 1660.0,300.0 1650.0,304.0" fill="#fff"/>
<polygon points="1720.0,318.0 1735.0,315.0 1740.0,322.0 1725.0,325.0" fill="#fff"/>
<g fill="#5cc3b8"><rect x="1580.3" y="332.5" width="2.7" height="1.2"/><rect x="1588.4" y="343.3" width="1.5" height="1.9"/><rect x="1569.4" y="346.7" width="1.5" height="1.3"/><rect x="1584.1" y="366.3" width="1.6" height="1.5"/><rect x="1591.8" y="372.4" width="2.6" height="1.8"/><rect x="1605.1" y="327.3" width="3.1" height="1.6"/><rect x="1573.5" y="330.9" width="2.0" height="2.4"/><rect x="1574.9" y="354.1" width="2.7" height="1.7"/><rect x="1588.8" y="328.1" width="1.5" height="1.4"/><rect x="1593.9" y="346.4" width="2.0" height="2.1"/><rect x="1585.2" y="340.0" width="3.0" height="2.2"/><rect x="1577.3" y="353.7" width="2.5" height="2.5"/><rect x="1595.7" y="339.4" width="3.4" height="1.3"/><rect x="1583.9" y="362.9" width="1.7" height="1.9"/><rect x="1569.5" y="358.4" width="2.9" height="2.0"/><rect x="1601.3" y="340.7" width="2.8" height="2.1"/><rect x="1590.0" y="347.8" width="3.1" height="2.6"/><rect x="1586.0" y="358.2" width="1.5" height="2.2"/><rect x="1592.6" y="374.7" width="3.0" height="1.6"/><rect x="1582.7" y="358.4" width="1.4" height="1.9"/><rect x="1574.4" y="330.9" width="1.5" height="2.3"/><rect x="1572.9" y="337.4" width="2.2" height="2.5"/><rect x="1571.1" y="347.5" width="2.5" height="2.5"/><rect x="1599.1" y="368.2" width="2.0" height="1.8"/><rect x="1581.6" y="369.2" width="3.3" height="1.4"/><rect x="1574.7" y="336.6" width="1.9" height="1.9"/><rect x="1590.4" y="338.1" width="1.4" height="1.8"/><rect x="1582.0" y="353.3" width="3.3" height="2.2"/><rect x="1587.6" y="355.9" width="2.8" height="1.2"/><rect x="1602.2" y="364.0" width="3.1" height="2.4"/><rect x="1582.9" y="344.9" width="1.6" height="2.1"/><rect x="1570.4" y="328.4" width="1.8" height="1.4"/><rect x="1580.9" y="327.6" width="1.4" height="1.4"/><rect x="1571.9" y="343.2" width="1.5" height="2.5"/><rect x="1591.3" y="332.4" width="1.9" height="1.7"/><rect x="1581.8" y="331.1" width="3.1" height="2.7"/><rect x="1585.7" y="349.2" width="1.6" height="1.3"/><rect x="1581.0" y="338.2" width="3.1" height="1.4"/><rect x="1568.9" y="372.5" width="2.5" height="1.4"/><rect x="1588.6" y="326.4" width="2.5" height="2.7"/><rect x="1600.8" y="359.8" width="1.9" height="1.7"/><rect x="1574.3" y="363.6" width="2.5" height="2.4"/><rect x="1580.5" y="336.2" width="3.0" height="2.7"/><rect x="1600.4" y="365.3" width="3.0" height="2.3"/><rect x="1576.6" y="350.9" width="2.1" height="1.2"/><rect x="1569.1" y="339.0" width="1.9" height="2.2"/><rect x="1604.3" y="347.4" width="3.3" height="2.7"/><rect x="1604.3" y="343.2" width="1.8" height="1.5"/><rect x="1575.5" y="335.2" width="2.6" height="2.6"/><rect x="1599.9" y="349.0" width="2.7" height="2.4"/><rect x="1571.2" y="358.0" width="3.2" height="2.4"/><rect x="1596.5" y="348.9" width="1.8" height="2.4"/><rect x="1580.6" y="365.0" width="3.3" height="1.8"/><rect x="1583.3" y="372.3" width="2.8" height="1.4"/><rect x="1572.8" y="332.6" width="3.2" height="2.4"/><rect x="1573.6" y="366.3" width="3.4" height="2.2"/><rect x="1581.3" y="352.4" width="1.7" height="1.1"/><rect x="1604.9" y="357.5" width="2.5" height="2.6"/><rect x="1584.5" y="368.6" width="3.1" height="1.5"/><rect x="1577.6" y="339.6" width="1.9" height="2.1"/><rect x="1577.9" y="346.0" width="1.7" height="2.6"/><rect x="1581.4" y="347.9" width="2.6" height="2.6"/><rect x="1584.0" y="370.9" width="2.4" height="2.0"/><rect x="1587.9" y="325.9" width="2.3" height="1.4"/><rect x="1568.1" y="365.0" width="1.7" height="1.9"/><rect x="1595.6" y="352.8" width="2.1" height="1.9"/><rect x="1589.1" y="364.2" width="1.6" height="2.0"/><rect x="1577.4" y="338.8" width="2.9" height="1.9"/><rect x="1589.3" y="363.0" width="3.2" height="1.8"/><rect x="1591.3" y="350.3" width="2.4" height="2.2"/><rect x="1585.2" y="351.7" width="2.4" height="2.6"/><rect x="1594.6" y="368.8" width="3.3" height="1.5"/><rect x="1589.3" y="372.2" width="3.1" height="1.3"/><rect x="1572.6" y="347.1" width="1.5" height="1.5"/><rect x="1570.8" y="358.5" width="3.0" height="2.6"/><rect x="1573.9" y="360.8" width="2.7" height="1.3"/><rect x="1601.5" y="373.4" width="1.8" height="2.6"/><rect x="1583.1" y="349.4" width="3.4" height="2.5"/><rect x="1574.1" y="346.6" width="2.4" height="1.7"/><rect x="1575.4" y="340.9" width="2.8" height="1.2"/><rect x="1763.3" y="369.8" width="1.4" height="1.7"/><rect x="1766.2" y="373.1" width="1.5" height="2.7"/><rect x="1773.1" y="393.7" width="1.6" height="1.5"/><rect x="1741.7" y="385.1" width="1.9" height="1.3"/><rect x="1757.7" y="391.0" width="3.0" height="1.5"/><rect x="1746.3" y="391.4" width="2.5" height="2.2"/><rect x="1743.8" y="352.6" width="2.8" height="1.8"/><rect x="1743.0" y="392.2" width="2.7" height="2.4"/><rect x="1743.5" y="388.5" width="1.5" height="2.5"/><rect x="1759.1" y="365.3" width="2.5" height="2.6"/><rect x="1751.3" y="355.8" width="2.5" height="1.5"/><rect x="1744.6" y="357.3" width="1.5" height="1.4"/><rect x="1753.1" y="363.7" width="2.9" height="1.6"/><rect x="1761.0" y="358.0" width="2.1" height="1.1"/><rect x="1750.5" y="350.7" width="2.9" height="2.0"/><rect x="1748.0" y="371.4" width="3.3" height="1.3"/><rect x="1774.4" y="369.4" width="2.4" height="2.5"/><rect x="1756.5" y="372.8" width="2.8" height="2.7"/><rect x="1754.4" y="387.5" width="2.8" height="2.1"/><rect x="1757.0" y="365.6" width="1.5" height="1.3"/><rect x="1743.0" y="383.3" width="1.9" height="1.4"/><rect x="1743.5" y="387.9" width="3.1" height="2.2"/><rect x="1751.8" y="360.9" width="2.0" height="1.9"/><rect x="1746.6" y="370.1" width="1.9" height="2.7"/><rect x="1780.9" y="374.6" width="1.9" height="2.7"/><rect x="1753.0" y="366.0" width="1.4" height="1.7"/><rect x="1759.9" y="372.6" width="1.8" height="1.9"/><rect x="1740.2" y="361.9" width="1.6" height="1.8"/><rect x="1741.8" y="351.0" width="2.0" height="1.5"/><rect x="1764.6" y="373.8" width="2.9" height="2.2"/><rect x="1770.1" y="389.6" width="2.2" height="1.6"/><rect x="1781.4" y="356.7" width="2.8" height="2.1"/><rect x="1741.8" y="387.6" width="3.2" height="2.1"/><rect x="1770.8" y="386.5" width="1.7" height="2.0"/><rect x="1761.2" y="387.6" width="3.0" height="2.4"/><rect x="1764.5" y="390.2" width="2.8" height="2.2"/><rect x="1749.7" y="351.4" width="1.7" height="1.7"/><rect x="1744.4" y="387.6" width="2.5" height="2.1"/><rect x="1766.3" y="380.6" width="2.4" height="1.1"/><rect x="1773.5" y="383.7" width="2.4" height="2.0"/><rect x="1767.7" y="353.0" width="2.9" height="1.5"/><rect x="1743.1" y="362.0" width="2.9" height="1.4"/><rect x="1771.1" y="393.9" width="2.4" height="1.7"/><rect x="1760.1" y="380.8" width="2.9" height="2.1"/><rect x="1767.0" y="353.5" width="1.7" height="1.5"/><rect x="1771.2" y="363.7" width="2.5" height="1.1"/><rect x="1742.5" y="362.1" width="2.7" height="2.2"/><rect x="1768.4" y="363.1" width="2.4" height="1.9"/><rect x="1759.6" y="355.3" width="3.2" height="1.4"/><rect x="1781.1" y="392.1" width="1.4" height="1.9"/><rect x="1774.4" y="393.6" width="2.3" height="1.5"/><rect x="1748.8" y="392.6" width="1.8" height="2.1"/><rect x="1746.0" y="373.6" width="3.3" height="1.3"/><rect x="1774.4" y="372.9" width="3.2" height="2.2"/><rect x="1749.7" y="390.4" width="2.4" height="1.2"/><rect x="1565.1" y="389.7" width="2.0" height="1.4"/><rect x="1569.9" y="383.8" width="1.8" height="2.2"/><rect x="1565.1" y="400.0" width="2.7" height="1.1"/><rect x="1597.4" y="398.5" width="2.8" height="1.4"/><rect x="1578.0" y="385.7" width="3.0" height="1.8"/><rect x="1577.6" y="387.1" width="1.7" height="1.0"/><rect x="1568.6" y="403.4" width="1.7" height="2.3"/><rect x="1573.7" y="380.6" width="2.1" height="1.2"/><rect x="1578.1" y="408.2" width="2.8" height="2.1"/><rect x="1587.1" y="406.5" width="2.9" height="1.8"/><rect x="1590.2" y="372.0" width="2.5" height="1.6"/><rect x="1591.3" y="395.8" width="1.7" height="1.0"/><rect x="1597.4" y="375.1" width="2.0" height="1.5"/><rect x="1575.4" y="399.6" width="3.0" height="1.3"/><rect x="1588.0" y="382.0" width="2.2" height="1.5"/><rect x="1570.9" y="376.5" width="1.6" height="2.3"/><rect x="1582.4" y="378.8" width="2.8" height="2.4"/><rect x="1580.7" y="375.6" width="1.5" height="1.1"/><rect x="1577.0" y="373.6" width="1.6" height="1.3"/><rect x="1584.9" y="405.5" width="2.5" height="1.6"/><rect x="1579.5" y="391.0" width="1.9" height="1.4"/><rect x="1567.2" y="381.1" width="2.9" height="1.1"/><rect x="1582.6" y="395.2" width="2.8" height="1.3"/><rect x="1574.5" y="379.9" width="1.9" height="1.6"/><rect x="1598.4" y="403.9" width="2.8" height="1.0"/><rect x="1601.9" y="431.5" width="2.8" height="1.6"/><rect x="1635.2" y="362.0" width="1.9" height="2.3"/><rect x="1649.5" y="445.8" width="3.0" height="1.3"/><rect x="1606.5" y="377.1" width="2.1" height="1.9"/><rect x="1656.5" y="432.7" width="2.4" height="2.1"/><rect x="1627.4" y="416.0" width="1.3" height="2.1"/><rect x="1614.0" y="452.2" width="2.4" height="1.4"/><rect x="1607.7" y="386.7" width="2.3" height="2.0"/><rect x="1606.7" y="368.9" width="2.1" height="1.8"/><rect x="1623.3" y="383.9" width="2.3" height="1.0"/><rect x="1618.1" y="407.1" width="2.9" height="1.9"/><rect x="1653.0" y="408.6" width="1.6" height="1.3"/><rect x="1657.6" y="431.1" width="1.8" height="1.0"/><rect x="1629.9" y="428.1" width="2.0" height="1.3"/><rect x="1640.0" y="452.7" width="1.6" height="1.0"/><rect x="1620.3" y="403.2" width="2.4" height="1.2"/><rect x="1647.8" y="434.4" width="2.1" height="1.3"/><rect x="1658.2" y="392.5" width="2.7" height="1.3"/><rect x="1613.3" y="436.5" width="1.7" height="2.3"/><rect x="1629.7" y="380.4" width="1.6" height="1.6"/><rect x="1639.9" y="455.0" width="1.5" height="1.5"/><rect x="1612.8" y="457.5" width="1.5" height="1.0"/><rect x="1603.6" y="400.5" width="2.8" height="2.2"/><rect x="1644.0" y="459.8" width="2.9" height="1.4"/><rect x="1611.1" y="453.7" width="2.5" height="1.0"/><rect x="1639.9" y="399.1" width="1.9" height="1.4"/><rect x="1610.2" y="362.3" width="1.7" height="1.5"/><rect x="1657.3" y="374.1" width="2.9" height="1.3"/><rect x="1621.4" y="442.5" width="2.7" height="1.6"/><rect x="1603.0" y="408.4" width="1.9" height="2.3"/><rect x="1611.6" y="397.7" width="2.8" height="1.0"/><rect x="1624.6" y="441.6" width="2.6" height="1.0"/><rect x="1602.1" y="368.1" width="2.9" height="1.3"/><rect x="1644.8" y="450.1" width="1.8" height="1.4"/><rect x="1657.5" y="422.5" width="1.7" height="2.0"/><rect x="1619.0" y="389.0" width="1.2" height="2.0"/><rect x="1655.0" y="424.1" width="2.9" height="1.0"/><rect x="1614.0" y="408.6" width="2.9" height="2.3"/><rect x="1623.2" y="386.6" width="2.0" height="1.7"/><rect x="1655.7" y="379.9" width="2.6" height="2.0"/><rect x="1649.4" y="437.7" width="2.3" height="1.4"/><rect x="1619.2" y="397.5" width="2.6" height="1.1"/><rect x="1611.8" y="435.8" width="1.6" height="1.1"/><rect x="1602.0" y="416.2" width="1.8" height="2.4"/><rect x="1653.0" y="458.8" width="1.7" height="1.1"/><rect x="1605.8" y="410.9" width="2.5" height="1.6"/><rect x="1614.1" y="402.9" width="2.3" height="1.9"/><rect x="1644.9" y="445.0" width="2.4" height="1.1"/><rect x="1650.5" y="390.8" width="2.2" height="1.5"/><rect x="1644.3" y="381.5" width="1.6" height="1.3"/><rect x="1609.2" y="448.6" width="2.2" height="1.4"/><rect x="1623.8" y="459.3" width="2.1" height="1.3"/><rect x="1648.5" y="426.0" width="3.0" height="1.1"/><rect x="1628.5" y="442.3" width="2.7" height="2.3"/><rect x="1602.4" y="390.8" width="1.4" height="1.2"/><rect x="1658.4" y="419.2" width="2.9" height="1.5"/><rect x="1652.0" y="406.0" width="1.7" height="2.1"/><rect x="1656.7" y="372.4" width="2.3" height="1.9"/><rect x="1613.1" y="398.1" width="1.5" height="1.3"/><rect x="1615.3" y="420.7" width="2.4" height="1.3"/><rect x="1600.7" y="394.1" width="2.4" height="1.2"/><rect x="1618.7" y="381.9" width="2.6" height="1.7"/><rect x="1603.8" y="371.9" width="1.9" height="1.8"/><rect x="1638.4" y="370.9" width="1.5" height="2.0"/><rect x="1624.6" y="389.8" width="1.8" height="2.3"/><rect x="1618.7" y="417.5" width="1.8" height="1.6"/><rect x="1651.9" y="459.7" width="1.9" height="1.2"/><rect x="1643.7" y="382.0" width="1.2" height="2.3"/><rect x="1625.4" y="442.4" width="1.9" height="2.2"/><rect x="1627.7" y="377.9" width="1.2" height="1.8"/><rect x="1585.6" y="417.7" width="1.4" height="2.0"/><rect x="1574.8" y="407.6" width="1.5" height="1.4"/><rect x="1580.8" y="418.1" width="1.4" height="1.7"/><rect x="1592.2" y="419.2" width="1.6" height="1.2"/><rect x="1597.7" y="419.4" width="2.2" height="1.0"/><rect x="1597.0" y="404.7" width="3.0" height="2.0"/><rect x="1593.0" y="399.0" width="2.8" height="1.3"/><rect x="1576.2" y="416.2" width="2.9" height="1.3"/><rect x="1568.7" y="405.0" width="2.2" height="1.6"/><rect x="1564.9" y="401.2" width="2.6" height="2.4"/><rect x="1561.6" y="409.1" width="2.7" height="1.0"/><rect x="1593.5" y="397.9" width="2.4" height="1.8"/><rect x="1585.1" y="402.7" width="2.0" height="1.9"/><rect x="1577.0" y="411.5" width="2.1" height="1.7"/><rect x="1560.9" y="410.5" width="2.2" height="1.3"/><rect x="1590.5" y="414.5" width="2.1" height="1.2"/><rect x="1578.9" y="397.7" width="1.5" height="1.6"/><rect x="1563.7" y="406.0" width="2.2" height="1.0"/><rect x="1585.5" y="397.1" width="2.7" height="2.2"/><rect x="1580.5" y="396.4" width="2.2" height="1.6"/><rect x="1598.0" y="398.4" width="2.9" height="2.6"/><rect x="1589.3" y="415.4" width="1.6" height="2.5"/><rect x="1579.7" y="418.9" width="3.0" height="1.2"/><rect x="1591.5" y="418.3" width="1.3" height="1.5"/><rect x="1590.2" y="399.0" width="3.0" height="1.4"/><rect x="1739.7" y="247.2" width="1.8" height="2.0"/><rect x="1672.9" y="253.1" width="1.8" height="1.2"/><rect x="1654.1" y="249.1" width="1.3" height="2.0"/><rect x="1724.8" y="284.8" width="1.3" height="1.8"/><rect x="1662.7" y="266.5" width="2.0" height="1.3"/><rect x="1746.0" y="267.8" width="1.9" height="1.9"/><rect x="1661.5" y="289.6" width="2.0" height="1.3"/><rect x="1737.7" y="253.2" width="2.6" height="1.5"/><rect x="1689.6" y="278.2" width="1.7" height="1.0"/><rect x="1731.8" y="242.4" width="2.3" height="1.1"/><rect x="1720.3" y="289.2" width="1.9" height="1.6"/><rect x="1684.4" y="240.1" width="1.1" height="1.0"/><rect x="1717.8" y="261.6" width="1.8" height="1.9"/><rect x="1664.5" y="251.4" width="2.0" height="0.8"/><rect x="1650.3" y="257.7" width="1.2" height="1.3"/><rect x="1674.7" y="269.2" width="1.9" height="1.1"/><rect x="1718.6" y="263.7" width="1.2" height="2.0"/><rect x="1676.8" y="247.5" width="1.2" height="1.6"/><rect x="1745.8" y="279.1" width="1.6" height="1.1"/><rect x="1651.3" y="272.2" width="1.9" height="1.2"/><rect x="1721.0" y="262.2" width="2.5" height="1.7"/><rect x="1677.3" y="285.2" width="1.1" height="1.5"/><rect x="1694.7" y="251.9" width="1.1" height="1.8"/><rect x="1651.4" y="267.5" width="2.5" height="1.0"/><rect x="1671.9" y="270.4" width="1.8" height="1.6"/><rect x="1688.8" y="366.8" width="1.8" height="1.4"/><rect x="1642.9" y="456.2" width="2.6" height="2.0"/><rect x="1640.4" y="450.6" width="2.5" height="1.6"/><rect x="1684.5" y="401.6" width="1.6" height="1.1"/><rect x="1653.9" y="349.9" width="1.8" height="2.0"/><rect x="1681.7" y="450.7" width="2.5" height="1.3"/><rect x="1673.2" y="399.5" width="2.6" height="1.7"/><rect x="1655.9" y="425.3" width="2.9" height="1.3"/><rect x="1692.8" y="346.9" width="1.7" height="1.3"/><rect x="1684.6" y="463.1" width="2.5" height="1.4"/><rect x="1692.8" y="386.1" width="1.6" height="2.3"/><rect x="1677.8" y="431.6" width="2.4" height="2.4"/><rect x="1668.2" y="450.0" width="2.5" height="2.2"/><rect x="1666.2" y="435.6" width="2.2" height="1.4"/><rect x="1652.7" y="422.8" width="1.3" height="2.3"/><rect x="1648.7" y="348.4" width="1.4" height="2.3"/><rect x="1660.7" y="362.7" width="1.3" height="1.0"/><rect x="1681.6" y="424.2" width="2.5" height="2.0"/><rect x="1643.9" y="418.8" width="1.9" height="2.1"/><rect x="1689.2" y="456.4" width="1.3" height="2.2"/><rect x="1694.9" y="463.0" width="1.4" height="1.3"/><rect x="1646.7" y="349.3" width="2.7" height="2.1"/><rect x="1678.1" y="448.1" width="2.3" height="1.4"/><rect x="1646.0" y="357.2" width="2.6" height="1.3"/><rect x="1659.1" y="398.0" width="1.2" height="1.3"/><rect x="1657.0" y="434.5" width="1.9" height="1.4"/><rect x="1697.8" y="408.0" width="2.7" height="1.9"/><rect x="1641.9" y="396.6" width="2.0" height="2.1"/><rect x="1660.8" y="433.1" width="2.2" height="1.3"/><rect x="1691.7" y="356.4" width="2.7" height="1.2"/><rect x="1640.1" y="370.3" width="2.6" height="2.4"/><rect x="1640.3" y="406.4" width="2.1" height="2.1"/><rect x="1651.1" y="406.8" width="1.8" height="2.2"/><rect x="1655.6" y="463.0" width="1.7" height="1.3"/><rect x="1682.0" y="407.3" width="1.4" height="1.9"/><rect x="1644.9" y="443.5" width="2.5" height="2.1"/><rect x="1677.7" y="389.5" width="1.9" height="1.5"/><rect x="1693.4" y="355.8" width="2.8" height="1.0"/><rect x="1652.4" y="377.9" width="2.8" height="1.7"/><rect x="1662.8" y="455.5" width="1.6" height="1.6"/><rect x="1671.9" y="439.3" width="2.6" height="1.9"/><rect x="1660.9" y="385.8" width="1.5" height="2.2"/><rect x="1679.7" y="437.7" width="1.5" height="1.6"/><rect x="1686.4" y="417.4" width="1.4" height="1.6"/><rect x="1693.1" y="374.7" width="1.5" height="1.4"/><rect x="1682.2" y="450.5" width="1.5" height="1.2"/><rect x="1654.9" y="385.8" width="2.1" height="1.2"/><rect x="1659.7" y="368.7" width="3.0" height="2.0"/><rect x="1646.1" y="465.3" width="1.4" height="1.5"/><rect x="1699.0" y="444.4" width="2.5" height="1.6"/><rect x="1651.8" y="424.7" width="1.4" height="1.3"/><rect x="1663.3" y="349.2" width="1.9" height="2.1"/><rect x="1681.6" y="407.6" width="2.3" height="1.6"/><rect x="1648.5" y="420.5" width="1.9" height="2.0"/><rect x="1694.5" y="398.8" width="2.2" height="2.0"/><rect x="1842.1" y="382.9" width="2.2" height="1.9"/><rect x="1877.4" y="430.0" width="2.4" height="1.7"/><rect x="1864.2" y="405.4" width="1.5" height="1.6"/><rect x="1809.8" y="402.0" width="2.3" height="1.7"/><rect x="1863.0" y="385.0" width="1.7" height="1.4"/><rect x="1862.2" y="400.9" width="2.1" height="2.0"/><rect x="1818.3" y="425.4" width="2.2" height="1.3"/><rect x="1849.0" y="457.5" width="1.1" height="1.5"/><rect x="1816.1" y="438.2" width="2.5" height="1.5"/><rect x="1810.1" y="417.5" width="1.9" height="1.7"/><rect x="1851.2" y="423.9" width="2.3" height="1.5"/><rect x="1841.0" y="454.8" width="1.3" height="1.7"/><rect x="1839.2" y="436.3" width="1.2" height="2.1"/><rect x="1835.5" y="365.7" width="1.4" height="1.3"/><rect x="1801.3" y="401.9" width="1.7" height="1.7"/><rect x="1835.2" y="386.5" width="1.4" height="1.7"/><rect x="1894.0" y="412.7" width="1.4" height="1.8"/><rect x="1839.2" y="381.2" width="1.2" height="1.8"/><rect x="1881.0" y="423.4" width="1.8" height="1.5"/><rect x="1822.6" y="456.4" width="1.6" height="1.6"/><rect x="1881.9" y="441.6" width="1.7" height="1.2"/><rect x="1854.8" y="372.5" width="2.3" height="1.3"/><rect x="1885.1" y="386.7" width="1.6" height="1.1"/><rect x="1842.6" y="378.6" width="1.0" height="1.7"/><rect x="1828.1" y="384.5" width="1.5" height="1.4"/><rect x="1842.8" y="423.7" width="2.1" height="1.3"/><rect x="1892.9" y="445.4" width="1.1" height="1.9"/><rect x="1890.6" y="438.4" width="1.2" height="1.9"/><rect x="1863.3" y="361.5" width="1.0" height="2.0"/><rect x="1865.6" y="385.0" width="1.2" height="1.0"/><rect x="1823.4" y="437.6" width="1.6" height="1.0"/><rect x="1890.4" y="439.2" width="1.3" height="1.9"/><rect x="1860.8" y="438.1" width="2.1" height="1.9"/><rect x="1878.8" y="443.9" width="1.3" height="1.7"/><rect x="1853.1" y="434.2" width="1.7" height="1.9"/><rect x="1736.1" y="437.0" width="1.6" height="1.2"/><rect x="1732.0" y="408.2" width="2.0" height="1.2"/><rect x="1731.9" y="469.7" width="2.2" height="2.2"/><rect x="1700.4" y="517.7" width="2.0" height="1.8"/><rect x="1743.2" y="517.7" width="1.9" height="1.6"/><rect x="1762.4" y="410.6" width="2.3" height="1.9"/><rect x="1701.9" y="485.4" width="2.4" height="2.3"/><rect x="1721.5" y="537.4" width="2.1" height="1.7"/><rect x="1758.3" y="404.7" width="2.5" height="1.9"/><rect x="1722.0" y="520.6" width="1.9" height="1.6"/><rect x="1734.2" y="507.9" width="1.6" height="1.6"/><rect x="1727.5" y="477.6" width="2.7" height="1.4"/><rect x="1753.8" y="456.5" width="2.1" height="1.4"/><rect x="1732.9" y="536.5" width="2.4" height="2.1"/><rect x="1721.5" y="444.4" width="1.7" height="1.8"/><rect x="1741.3" y="509.8" width="1.3" height="2.0"/><rect x="1757.6" y="476.4" width="1.3" height="1.4"/><rect x="1700.4" y="426.6" width="2.9" height="1.8"/><rect x="1742.8" y="510.5" width="2.8" height="1.8"/><rect x="1740.1" y="487.8" width="2.5" height="1.8"/><rect x="1744.3" y="429.8" width="2.4" height="1.6"/><rect x="1749.6" y="414.2" width="1.5" height="1.0"/><rect x="1750.3" y="528.0" width="2.4" height="1.5"/><rect x="1753.5" y="510.1" width="2.2" height="1.3"/><rect x="1719.6" y="459.0" width="1.8" height="1.6"/><rect x="1741.7" y="530.7" width="1.3" height="1.8"/><rect x="1702.6" y="416.6" width="2.7" height="1.8"/><rect x="1759.7" y="462.5" width="1.2" height="1.5"/><rect x="1738.5" y="531.3" width="3.0" height="1.6"/><rect x="1726.8" y="414.3" width="2.4" height="1.3"/><rect x="1709.9" y="402.2" width="1.2" height="1.9"/><rect x="1707.9" y="535.3" width="1.4" height="2.2"/><rect x="1708.4" y="402.5" width="2.5" height="1.3"/><rect x="1747.7" y="426.2" width="1.3" height="2.1"/><rect x="1746.4" y="519.8" width="2.5" height="1.1"/><rect x="1740.9" y="499.3" width="2.0" height="2.3"/><rect x="1716.5" y="535.0" width="2.5" height="1.0"/><rect x="1701.0" y="491.1" width="2.7" height="1.1"/><rect x="1720.2" y="502.1" width="1.5" height="2.2"/><rect x="1731.6" y="408.4" width="1.9" height="1.8"/><rect x="1728.5" y="494.8" width="1.5" height="2.1"/><rect x="1723.6" y="490.3" width="2.3" height="1.6"/><rect x="1725.1" y="510.1" width="2.9" height="2.1"/><rect x="1736.8" y="440.9" width="1.3" height="2.4"/><rect x="1745.7" y="515.8" width="1.8" height="1.8"/><rect x="1878.4" y="318.2" width="2.0" height="1.2"/><rect x="1840.0" y="322.2" width="1.6" height="1.7"/><rect x="1852.1" y="322.7" width="2.3" height="1.2"/><rect x="1810.1" y="278.4" width="1.7" height="1.6"/><rect x="1867.1" y="322.1" width="1.1" height="1.9"/><rect x="1866.8" y="320.7" width="1.9" height="1.2"/><rect x="1869.6" y="316.5" width="2.1" height="2.0"/><rect x="1834.3" y="266.0" width="1.9" height="1.8"/><rect x="1824.0" y="312.5" width="2.5" height="1.1"/><rect x="1852.5" y="307.4" width="1.7" height="1.1"/><rect x="1827.8" y="312.6" width="2.3" height="1.4"/><rect x="1816.1" y="316.5" width="2.2" height="1.1"/><rect x="1850.6" y="322.8" width="2.4" height="1.5"/><rect x="1843.4" y="301.3" width="1.3" height="1.0"/><rect x="1822.6" y="309.1" width="1.6" height="1.5"/><rect x="1838.2" y="296.2" width="1.2" height="0.9"/><rect x="1879.8" y="286.2" width="1.2" height="1.6"/><rect x="1865.1" y="270.9" width="2.0" height="1.2"/><rect x="1611.2" y="251.0" width="1.1" height="2.1"/><rect x="1632.0" y="274.3" width="1.9" height="1.1"/><rect x="1626.8" y="271.3" width="2.5" height="1.8"/><rect x="1629.1" y="298.2" width="1.4" height="0.8"/><rect x="1592.1" y="259.0" width="1.1" height="0.9"/><rect x="1613.4" y="293.5" width="1.7" height="2.0"/><rect x="1634.6" y="253.2" width="2.0" height="1.3"/><rect x="1587.2" y="298.0" width="1.4" height="1.5"/><rect x="1618.4" y="297.8" width="2.1" height="1.3"/><rect x="1606.9" y="258.0" width="2.5" height="2.1"/><rect x="1593.3" y="251.9" width="1.4" height="1.3"/><rect x="1634.2" y="295.2" width="2.3" height="0.9"/><rect x="1627.2" y="285.5" width="2.0" height="2.1"/><rect x="1583.3" y="257.2" width="2.2" height="2.0"/><rect x="1620.6" y="264.9" width="1.9" height="1.8"/><rect x="1586.3" y="266.2" width="1.4" height="1.0"/><rect x="1608.9" y="258.4" width="1.4" height="1.0"/><rect x="1620.7" y="250.6" width="2.1" height="1.0"/><rect x="1642.2" y="226.4" width="1.3" height="1.8"/><rect x="1692.0" y="224.4" width="1.2" height="1.3"/><rect x="1645.8" y="226.4" width="2.2" height="1.5"/><rect x="1667.1" y="197.0" width="2.2" height="1.3"/><rect x="1677.7" y="187.1" width="1.3" height="0.9"/><rect x="1682.8" y="207.7" width="1.2" height="1.8"/><rect x="1656.0" y="200.6" width="1.2" height="1.1"/><rect x="1690.4" y="196.7" width="1.2" height="1.3"/><rect x="1659.1" y="225.2" width="1.2" height="1.9"/><rect x="1643.4" y="224.8" width="1.9" height="1.0"/><rect x="1658.2" y="494.3" width="1.5" height="1.1"/><rect x="1649.1" y="578.9" width="2.8" height="2.1"/><rect x="1627.8" y="494.7" width="2.6" height="0.9"/><rect x="1678.1" y="495.2" width="2.8" height="0.8"/><rect x="1684.6" y="500.9" width="1.3" height="0.8"/><rect x="1686.6" y="523.2" width="1.3" height="1.4"/><rect x="1693.0" y="486.2" width="2.0" height="1.0"/><rect x="1634.4" y="552.5" width="2.3" height="1.1"/><rect x="1626.3" y="470.5" width="2.1" height="1.5"/><rect x="1641.9" y="484.7" width="2.1" height="1.8"/><rect x="1684.9" y="530.0" width="1.4" height="0.9"/><rect x="1678.6" y="509.0" width="2.3" height="0.9"/><rect x="1684.9" y="500.2" width="2.5" height="2.0"/><rect x="1659.4" y="461.9" width="2.6" height="1.5"/><rect x="1689.8" y="492.0" width="1.3" height="2.0"/><rect x="1649.4" y="479.6" width="1.7" height="1.7"/><rect x="1620.4" y="522.4" width="1.8" height="1.5"/><rect x="1629.7" y="545.8" width="2.5" height="2.0"/><rect x="1645.7" y="545.3" width="1.7" height="1.9"/><rect x="1624.9" y="564.7" width="2.7" height="1.5"/><rect x="1661.1" y="523.7" width="2.0" height="0.8"/><rect x="1697.4" y="486.8" width="1.3" height="0.9"/><rect x="1640.0" y="558.1" width="1.1" height="0.9"/><rect x="1675.9" y="483.4" width="1.0" height="1.7"/><rect x="1666.1" y="522.7" width="2.3" height="0.9"/><rect x="1689.6" y="546.1" width="1.1" height="1.0"/><rect x="1659.5" y="520.1" width="1.5" height="1.0"/><rect x="1652.5" y="476.4" width="2.1" height="2.0"/><rect x="1631.8" y="528.7" width="2.3" height="1.0"/><rect x="1686.1" y="572.5" width="1.7" height="1.4"/><rect x="1687.2" y="523.1" width="1.7" height="2.2"/><rect x="1682.2" y="500.6" width="1.4" height="1.3"/><rect x="1654.8" y="577.7" width="2.4" height="2.1"/><rect x="1685.2" y="561.7" width="1.1" height="1.5"/><rect x="1696.6" y="572.1" width="1.4" height="1.4"/><rect x="1709.5" y="407.0" width="2.6" height="1.3"/><rect x="1706.5" y="411.7" width="1.5" height="1.4"/><rect x="1714.5" y="420.6" width="3.4" height="2.2"/><rect x="1712.1" y="424.2" width="3.3" height="1.3"/><rect x="1709.6" y="403.8" width="2.9" height="1.6"/><rect x="1708.1" y="425.5" width="2.7" height="1.6"/><rect x="1707.8" y="409.3" width="3.4" height="1.7"/><rect x="1704.6" y="416.4" width="1.7" height="2.2"/><rect x="1714.3" y="412.0" width="2.0" height="1.9"/><rect x="1708.0" y="399.9" width="1.7" height="1.4"/><rect x="1704.4" y="408.4" width="2.1" height="1.6"/><rect x="1701.3" y="413.0" width="3.2" height="2.2"/><rect x="1708.6" y="416.5" width="1.9" height="2.3"/><rect x="1706.9" y="413.1" width="2.7" height="2.0"/><rect x="1689.7" y="395.9" width="1.8" height="1.8"/><rect x="1690.7" y="400.0" width="1.5" height="1.6"/><rect x="1697.9" y="395.9" width="2.3" height="1.8"/><rect x="1689.3" y="404.9" width="1.9" height="2.1"/><rect x="1687.4" y="393.8" width="2.8" height="1.7"/><rect x="1685.9" y="397.7" width="2.2" height="2.1"/><rect x="1686.6" y="395.7" width="2.9" height="2.1"/><rect x="1687.3" y="397.0" width="2.0" height="2.0"/><rect x="1617.3" y="298.8" width="1.8" height="1.2"/><rect x="1619.8" y="297.9" width="1.8" height="1.2"/><rect x="1620.7" y="297.7" width="1.9" height="0.9"/><rect x="1622.4" y="292.0" width="1.8" height="1.3"/><rect x="1615.0" y="299.7" width="1.6" height="1.1"/><rect x="1620.7" y="299.0" width="1.6" height="1.1"/></g>
<g fill="#5cc3b8"><rect x="1868" y="436" width="14" height="4" transform="rotate(25 1875 438)"/><rect x="1744" y="352" width="7" height="10"/><rect x="1688" y="528" width="6" height="8"/><rect x="1645" y="520" width="6" height="7"/></g>
<g fill="#40103c"><rect x="1601" y="321" width="8" height="5"/><rect x="1584" y="328" width="8" height="3"/><rect x="1673" y="305" width="7" height="3"/><rect x="1648" y="315" width="14" height="1.6"/><rect x="1692" y="316" width="12" height="2"/><rect x="1618" y="315" width="4" height="2"/><rect x="1665" y="292" width="3" height="6"/><rect x="1606" y="332" width="4" height="3"/><rect x="1612" y="336" width="3" height="3"/><rect x="1690" y="314" width="3" height="3"/><rect x="1700" y="325" width="3" height="2"/><rect x="1660" y="317" width="2" height="2"/><rect x="1640" y="314" width="2" height="2"/><rect x="1714" y="320" width="3" height="2"/><rect x="1720" y="318" width="2" height="2"/><rect x="1783" y="382" width="4" height="3"/><rect x="1778" y="395" width="3" height="4"/><rect x="1786" y="365" width="3" height="2"/><rect x="1770" y="420" width="3" height="3"/><rect x="1773" y="447" width="3" height="3"/><rect x="1780" y="478" width="2" height="3"/><rect x="1590" y="340" width="3" height="2"/><rect x="1597" y="345" width="3" height="2"/><rect x="1745" y="453" width="3" height="3"/><rect x="1757" y="413" width="3" height="3"/></g>
</g>
<polygon points="1644.4,143.9 1660.0,142.2 1667.0,149.2 1672.3,157.9 1686.2,157.9 1696.7,168.3 1700.1,178.8 1717.6,185.7 1726.3,191.0 1742.0,194.5 1757.6,192.7 1771.6,199.7 1776.8,217.1 1768.1,225.8 1778.5,241.5 1780.3,250.2 1817.8,249.4 1843.8,263.6 1857.9,280.1 1872.0,278.9 1869.7,287.1 1883.8,308.3 1902.7,339.0 1921.5,372.0 1919.2,402.6 1915.6,409.7 1915.6,452.1 1883.8,440.3 1879.1,447.4 1869.7,447.4 1865.0,459.2 1850.8,466.3 1841.8,465.6 1823.4,471.7 1790.6,508.6 1731.1,547.5 1677.9,591.6 1669.7,576.2 1636.9,543.4 1634.8,539.3 1620.5,486.1 1612.3,457.4 1609.2,449.2 1600.0,443.0 1593.0,438.8 1556.1,416.2 1552.0,410.0 1558.2,395.7 1570.5,346.6 1584.8,307.6 1593.3,273.4 1611.7,236.6 1630.2,197.6 1638.4,179.2 1642.5,152.5" fill="none" stroke="#3c3c3c" stroke-width="1.4" stroke-dasharray="4 2.6"/>
<text x="513.7" y="89.2" textLength="224" lengthAdjust="spacingAndGlyphs" font-size="19.6" font-weight="bold" font-style="normal" fill="#3d0f3a">SOUTHEAST U.S. COASTAL PLAIN</text>
<text x="586" y="105.7" textLength="81.5" lengthAdjust="spacingAndGlyphs" font-size="13" font-weight="normal" font-style="italic" fill="#5b4a59">Property Values</text>
<text x="1652.4" y="89.2" textLength="166.2" lengthAdjust="spacingAndGlyphs" font-size="19.6" font-weight="bold" font-style="normal" fill="#3d0f3a">EDGECOMBE COUNTY, NC</text>
<text x="1695.6" y="106.2" textLength="81" lengthAdjust="spacingAndGlyphs" font-size="13" font-weight="normal" font-style="italic" fill="#5b4a59">Property Values</text>
<text x="1347" y="285" textLength="97" lengthAdjust="spacingAndGlyphs" font-size="33" font-weight="bold" font-style="normal" fill="#3d0f3a">$68,953</text>
<rect x="1279" y="298.2" width="232.4000000000001" height="26.400000000000034" fill="#fff" stroke="#3d0f3a" stroke-width="2.2"/>
<text x="1323.4" y="318.3" textLength="143.5" lengthAdjust="spacingAndGlyphs" font-size="20.3" font-weight="bold" font-style="normal" fill="#3d0f3a">INSIDE FLOODPLAIN</text>
<text x="1288.9" y="348" textLength="168" lengthAdjust="spacingAndGlyphs" font-size="19" font-weight="bold" font-style="normal" fill="#3d0f3a">Median Household Value</text>
<text x="1461" y="348" textLength="41.4" lengthAdjust="spacingAndGlyphs" font-size="19" font-weight="normal" font-style="normal" fill="#5b4a59">(2020)</text>
<line x1="1512.4" y1="311" x2="1604.3" y2="311" stroke="#3d0f3a" stroke-width="2"/>
<circle cx="1604.3" cy="311" r="3.6" fill="#3d0f3a"/>
<text x="1347" y="402" textLength="97" lengthAdjust="spacingAndGlyphs" font-size="33" font-weight="bold" font-style="normal" fill="#3d0f3a">$82,963</text>
<rect x="1279" y="415.6" width="232.4000000000001" height="25.69999999999999" fill="#fff" stroke="#3d0f3a" stroke-width="2.2"/>
<text x="1316.4" y="435.3" textLength="157.5" lengthAdjust="spacingAndGlyphs" font-size="20.3" font-weight="bold" font-style="normal" fill="#3d0f3a">OUTSIDE FLOODPLAIN</text>
<text x="1288.9" y="465" textLength="168" lengthAdjust="spacingAndGlyphs" font-size="19" font-weight="bold" font-style="normal" fill="#3d0f3a">Median Household Value</text>
<text x="1461" y="465" textLength="41.4" lengthAdjust="spacingAndGlyphs" font-size="19" font-weight="normal" font-style="normal" fill="#5b4a59">(2020)</text>
<line x1="1512.4" y1="428" x2="1607.8" y2="428" stroke="#3d0f3a" stroke-width="2"/>
<circle cx="1607.8" cy="428" r="3.6" fill="#3d0f3a"/>
<text x="1148.5" y="520" textLength="108.8" lengthAdjust="spacingAndGlyphs" font-size="33" font-weight="bold" font-style="normal" fill="#3d0f3a">$134,294</text>
<rect x="1086.3" y="532.4" width="233.10000000000014" height="26.200000000000045" fill="#fff" stroke="#3d0f3a" stroke-width="2.2"/>
<text x="1141.9" y="551.8" textLength="122" lengthAdjust="spacingAndGlyphs" font-size="20.3" font-weight="bold" font-style="normal" fill="#3d0f3a">U.S. BLACK BELT</text>
<text x="1097.8" y="581.8" textLength="168.5" lengthAdjust="spacingAndGlyphs" font-size="19" font-weight="bold" font-style="normal" fill="#3d0f3a">Median Household Value</text>
<text x="1270.5" y="581.8" textLength="38.1" lengthAdjust="spacingAndGlyphs" font-size="19" font-weight="normal" font-style="normal" fill="#5b4a59">(2018)</text>
<line x1="1085.3" y1="545.5" x2="977" y2="545.5" stroke="#3d0f3a" stroke-width="2"/>
<circle cx="977" cy="545.5" r="3.6" fill="#3d0f3a"/>
<text x="1147.3" y="634.3" textLength="111.4" lengthAdjust="spacingAndGlyphs" font-size="33" font-weight="bold" font-style="normal" fill="#3d0f3a">$239,055</text>
<rect x="1086.3" y="647.8" width="233.10000000000014" height="25.800000000000068" fill="#fff" stroke="#3d0f3a" stroke-width="2.2"/>
<text x="1128.4" y="667.3" textLength="149" lengthAdjust="spacingAndGlyphs" font-size="20.3" font-weight="bold" font-style="normal" fill="#3d0f3a">SOUTHEAST METROS</text>
<text x="1097.8" y="697.2" textLength="168.5" lengthAdjust="spacingAndGlyphs" font-size="19" font-weight="bold" font-style="normal" fill="#3d0f3a">Median Household Value</text>
<text x="1270.5" y="697.2" textLength="38.1" lengthAdjust="spacingAndGlyphs" font-size="19" font-weight="normal" font-style="normal" fill="#5b4a59">(2018)</text>
<line x1="1085.3" y1="661" x2="979.6" y2="661" stroke="#3d0f3a" stroke-width="2"/>
<circle cx="979.6" cy="661" r="3.6" fill="#3d0f3a"/>
<line x1="79" y1="816.4" x2="1921" y2="816.4" stroke="#3d0f3a" stroke-width="1.8" stroke-dasharray="4.3 4"/>
<circle cx="79" cy="816.4" r="3.4" fill="#3d0f3a"/>
<circle cx="1921" cy="816.4" r="3.4" fill="#3d0f3a"/>
<circle cx="141.6" cy="816.3" r="38.3" fill="#42103e"/>
<g fill="#fff"><polygon points="141.8,797.5 161.5,816.5 159.3,818.8 141.8,802 124.3,818.8 122.1,816.5"/><polygon points="150,801.5 150,797.5 154.1,797.5 154.1,805.5"/><path d="M127,818.5 L141.8,804.3 L156.6,818.5 L156.6,836.5 L145.9,836.5 L145.9,820 L137.7,820 L137.7,836.5 L127,836.5 Z"/></g>
<circle cx="328.2" cy="816.4" r="36.9" fill="#fff" stroke="#3d0f3a" stroke-width="3"/>
<text x="303.4" y="830" textLength="33.1" lengthAdjust="spacingAndGlyphs" font-size="31.5" font-weight="bold" font-style="normal" fill="#3d0f3a">83</text>
<text x="338.8" y="830.6" textLength="13.2" lengthAdjust="spacingAndGlyphs" font-size="17.5" font-weight="normal" font-style="normal" fill="#3d0f3a">%</text>
<circle cx="1380.3" cy="816.4" r="36.9" fill="#fff" stroke="#3d0f3a" stroke-width="3"/>
<text x="1355.4" y="830" textLength="34.4" lengthAdjust="spacingAndGlyphs" font-size="31.5" font-weight="bold" font-style="normal" fill="#3d0f3a">36</text>
<text x="1391.4" y="830.6" textLength="13.6" lengthAdjust="spacingAndGlyphs" font-size="17.5" font-weight="normal" font-style="normal" fill="#3d0f3a">%</text>
<circle cx="1852.8" cy="816.4" r="36.9" fill="#fff" stroke="#3d0f3a" stroke-width="3"/>
<text x="1827.4" y="830" textLength="34.3" lengthAdjust="spacingAndGlyphs" font-size="31.5" font-weight="bold" font-style="normal" fill="#3d0f3a">28</text>
<text x="1863.4" y="830.6" textLength="14.2" lengthAdjust="spacingAndGlyphs" font-size="17.5" font-weight="normal" font-style="normal" fill="#3d0f3a">%</text>
<text x="120.7" y="735.6" textLength="44.4" lengthAdjust="spacingAndGlyphs" font-size="13" font-weight="bold" font-style="italic" fill="#3d0f3a">$68,953</text>
<text x="87.3" y="753" textLength="110.9" lengthAdjust="spacingAndGlyphs" font-size="13.5" font-weight="normal" font-style="italic" fill="#5b4a59">Anticipated Amount of</text>
<text x="96" y="769.6" textLength="93.5" lengthAdjust="spacingAndGlyphs" font-size="13.5" font-weight="normal" font-style="italic" fill="#5b4a59">Federal + State Aid</text>
<text x="309.2" y="769.6" textLength="40.9" lengthAdjust="spacingAndGlyphs" font-size="13" font-weight="normal" font-style="italic" fill="#5b4a59">$82,963</text>
<text x="1359.4" y="770.4" textLength="44.6" lengthAdjust="spacingAndGlyphs" font-size="13" font-weight="normal" font-style="italic" fill="#5b4a59">$193,200</text>
<text x="1833" y="770.4" textLength="43" lengthAdjust="spacingAndGlyphs" font-size="13" font-weight="normal" font-style="italic" fill="#5b4a59">$242,617</text>
<text x="91.2" y="882.7" textLength="102.2" lengthAdjust="spacingAndGlyphs" font-size="18.5" font-weight="bold" font-style="normal" fill="#3d0f3a">BUYING POWER</text>
<text x="274.2" y="882.7" textLength="108" lengthAdjust="spacingAndGlyphs" font-size="18.5" font-weight="bold" font-style="normal" fill="#3d0f3a">WITHIN COUNTY</text>
<text x="1332.3" y="882.7" textLength="96.4" lengthAdjust="spacingAndGlyphs" font-size="18.5" font-weight="bold" font-style="normal" fill="#3d0f3a">WITHIN STATE</text>
<text x="1798.3" y="882.7" textLength="113.9" lengthAdjust="spacingAndGlyphs" font-size="18.5" font-weight="bold" font-style="normal" fill="#3d0f3a">NEAREST METRO</text>
<text x="77.5" y="899.3" textLength="130.5" lengthAdjust="spacingAndGlyphs" font-size="13.5" font-weight="normal" font-style="italic" fill="#5b4a59">Princeville Flood Survivor</text>
<text x="274.2" y="899.3" textLength="109" lengthAdjust="spacingAndGlyphs" font-size="13.5" font-weight="normal" font-style="italic" fill="#5b4a59">Outside of Floodplain</text>
<text x="1343.9" y="899.3" textLength="74.3" lengthAdjust="spacingAndGlyphs" font-size="13.5" font-weight="normal" font-style="italic" fill="#5b4a59">North Carolina</text>
<text x="1786.8" y="899.3" textLength="138.6" lengthAdjust="spacingAndGlyphs" font-size="13.5" font-weight="normal" font-style="italic" fill="#5b4a59">Raleigh Metro Service Area</text>
<rect x="76" y="607" width="9.6" height="9.4" fill="#dcdcdc"/>
<text x="90.6" y="614.6" textLength="114" lengthAdjust="spacingAndGlyphs" font-size="7.4" font-weight="bold" font-style="normal" fill="#4a3347">COASTAL PLAIN ECOREGIONS (EPA)</text>
<rect x="76" y="621.6" width="9.6" height="9.4" fill="#a8929f"/>
<text x="90.6" y="629.2" textLength="139.6" lengthAdjust="spacingAndGlyphs" font-size="7.4" font-weight="bold" font-style="normal" fill="#4a3347">33% - 50% BLACK POPULATION (ESRI, 2018)</text>
<rect x="76" y="636" width="9.6" height="9.4" fill="#6e4b68"/>
<text x="90.6" y="643.6" textLength="139.6" lengthAdjust="spacingAndGlyphs" font-size="7.4" font-weight="bold" font-style="normal" fill="#4a3347">50% - 66% BLACK POPULATION (ESRI, 2018)</text>
<rect x="76" y="650.4" width="9.6" height="9.4" fill="#40103c"/>
<text x="90.6" y="658.0" textLength="124.2" lengthAdjust="spacingAndGlyphs" font-size="7.4" font-weight="bold" font-style="normal" fill="#4a3347">&gt; 66% BLACK POPULATION (ESRI, 2018)</text>
<rect x="76" y="664.6" width="9.6" height="9.4" fill="#ffffff" stroke="#bbb" stroke-width="0.8"/>
<text x="90.6" y="672.2" textLength="190.8" lengthAdjust="spacingAndGlyphs" font-size="7.4" font-weight="bold" font-style="normal" fill="#4a3347">SOUTHEAST U.S. METRO SERVICE AREAS (1M+ POPULATION)</text>
<rect x="1796.5" y="548.3" width="9.4" height="9" fill="#d6d6d6"/>
<rect x="1796.5" y="563.6" width="9.4" height="9.2" fill="#4fc1b6"/>
<rect x="1796.5" y="583.2" width="9.4" height="8.7" fill="#40103c"/>
<text x="1811" y="555.6" textLength="112.6" lengthAdjust="spacingAndGlyphs" font-size="7.4" font-weight="bold" font-style="normal" fill="#4a3347">FLOODWAY + FLOODPLAINS (FEMA)</text>
<text x="1811" y="567.7" textLength="92.8" lengthAdjust="spacingAndGlyphs" font-size="7.4" font-weight="bold" font-style="normal" fill="#4a3347">SINGLE FAMILY RESIDENTIAL</text>
<text x="1811" y="574.4" textLength="107.2" lengthAdjust="spacingAndGlyphs" font-size="7.4" font-weight="bold" font-style="normal" fill="#4a3347">PARCELS OUTSIDE FLOODPLAINS</text>
<text x="1811" y="586.6" textLength="92.8" lengthAdjust="spacingAndGlyphs" font-size="7.4" font-weight="bold" font-style="normal" fill="#4a3347">SINGLE FAMILY RESIDENTIAL</text>
<text x="1811" y="593.8" textLength="100.9" lengthAdjust="spacingAndGlyphs" font-size="7.4" font-weight="bold" font-style="normal" fill="#4a3347">PARCELS INSIDE FLOODPLAINS</text>
</svg>
</body></html>
